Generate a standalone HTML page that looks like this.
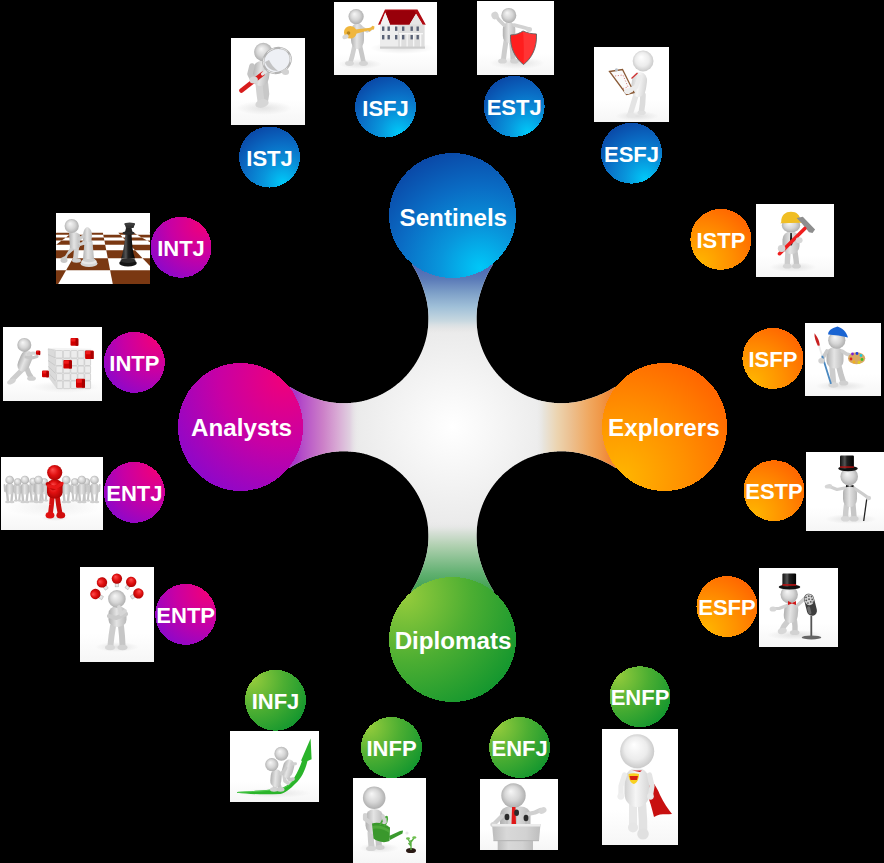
<!DOCTYPE html>
<html><head><meta charset="utf-8"><style>
html,body{margin:0;padding:0;background:#000;width:884px;height:863px;overflow:hidden}
svg{display:block}
.bl{font-family:"Liberation Sans",sans-serif;font-weight:bold;font-size:24.2px;fill:#fff;text-anchor:middle}
.sl{font-family:"Liberation Sans",sans-serif;font-weight:bold;font-size:22px;fill:#fff;text-anchor:middle}
</style></head><body>
<svg width="884" height="863" viewBox="0 0 884 863">
<defs><radialGradient id="gb" cx="0.72" cy="0.92" r="1.05" fx="0.72" fy="0.92"><stop offset="0" stop-color="#00c8f8"/><stop offset="0.3" stop-color="#0896dc"/><stop offset="0.62" stop-color="#0a6cc4"/><stop offset="1" stop-color="#0a40a0"/></radialGradient>
<radialGradient id="gm" cx="0.85" cy="0.12" r="1.05" fx="0.85" fy="0.12"><stop offset="0" stop-color="#f0007a"/><stop offset="0.5" stop-color="#c800a4"/><stop offset="1" stop-color="#8a08cc"/></radialGradient>
<radialGradient id="go" cx="0.15" cy="0.90" r="1.05" fx="0.15" fy="0.90"><stop offset="0" stop-color="#ffb600"/><stop offset="0.5" stop-color="#ff9000"/><stop offset="1" stop-color="#ff6400"/></radialGradient>
<radialGradient id="gg" cx="0.12" cy="0.15" r="1.05" fx="0.12" fy="0.15"><stop offset="0" stop-color="#96cc3c"/><stop offset="0.5" stop-color="#4cae32"/><stop offset="1" stop-color="#10952e"/></radialGradient>
<radialGradient id="cw" gradientUnits="userSpaceOnUse" cx="452.5" cy="427" r="150"><stop offset="0" stop-color="#ffffff"/><stop offset="0.7" stop-color="#e9e9e9"/><stop offset="1" stop-color="#e6e6e6"/></radialGradient>
<linearGradient id="at" gradientUnits="userSpaceOnUse" x1="0" y1="262" x2="0" y2="334"><stop offset="0.000" stop-color="#4862b4" stop-opacity="1"/><stop offset="0.236" stop-color="#5a7ab8" stop-opacity="1"/><stop offset="0.430" stop-color="#7ea0c8" stop-opacity="1"/><stop offset="0.625" stop-color="#a0c0d8" stop-opacity="1"/><stop offset="0.820" stop-color="#c8d8e0" stop-opacity="1"/><stop offset="0.944" stop-color="#e4e4e4" stop-opacity="0.5"/><stop offset="1.000" stop-color="#e8e8e8" stop-opacity="0"/></linearGradient>
<linearGradient id="ab" gradientUnits="userSpaceOnUse" x1="0" y1="590" x2="0" y2="522"><stop offset="0.000" stop-color="#40a050" stop-opacity="1"/><stop offset="0.240" stop-color="#60b070" stop-opacity="1"/><stop offset="0.446" stop-color="#88c090" stop-opacity="1"/><stop offset="0.650" stop-color="#b0d0b0" stop-opacity="1"/><stop offset="0.855" stop-color="#d8e0d8" stop-opacity="1"/><stop offset="0.940" stop-color="#e4e6e4" stop-opacity="0.5"/><stop offset="1.000" stop-color="#e8e8e8" stop-opacity="0"/></linearGradient>
<linearGradient id="al" gradientUnits="userSpaceOnUse" x1="296" y1="0" x2="359" y2="0"><stop offset="0.000" stop-color="#a838c8" stop-opacity="1"/><stop offset="0.095" stop-color="#b44cc8" stop-opacity="1"/><stop offset="0.430" stop-color="#cc80c8" stop-opacity="1"/><stop offset="0.650" stop-color="#d8a8d4" stop-opacity="1"/><stop offset="0.857" stop-color="#e0d0e0" stop-opacity="1"/><stop offset="0.937" stop-color="#e6e0e6" stop-opacity="0.5"/><stop offset="1.000" stop-color="#e8e8e8" stop-opacity="0"/></linearGradient>
<linearGradient id="ar" gradientUnits="userSpaceOnUse" x1="609" y1="0" x2="537" y2="0"><stop offset="0.000" stop-color="#f08838" stop-opacity="1"/><stop offset="0.117" stop-color="#f09848" stop-opacity="1"/><stop offset="0.280" stop-color="#f0a860" stop-opacity="1"/><stop offset="0.530" stop-color="#ecc090" stop-opacity="1"/><stop offset="0.720" stop-color="#ecd4b0" stop-opacity="1"/><stop offset="0.908" stop-color="#e8e4dc" stop-opacity="1"/><stop offset="1.000" stop-color="#e8e8e8" stop-opacity="0"/></linearGradient>
<clipPath id="cc"><path d="M452.5,215.5 L492.88,264.64 L492.48,265.29 L492.08,265.94 L491.68,266.59 L491.30,267.24 L490.91,267.90 L490.54,268.56 L490.16,269.22 L489.80,269.89 L489.44,270.55 L489.08,271.22 L488.73,271.89 L488.38,272.56 L488.04,273.23 L487.71,273.91 L487.38,274.59 L487.05,275.27 L486.73,275.95 L486.42,276.63 L486.11,277.31 L485.80,278.00 L485.50,278.69 L485.20,279.38 L484.91,280.07 L484.63,280.76 L484.35,281.45 L484.07,282.15 L483.80,282.84 L483.54,283.54 L483.27,284.24 L483.02,284.94 L482.77,285.64 L482.52,286.34 L482.27,287.04 L482.03,287.75 L481.80,288.45 L481.56,289.16 L481.34,289.86 L481.11,290.57 L480.88,291.28 L480.66,291.98 L480.43,292.69 L480.21,293.40 L480.00,294.11 L479.79,294.82 L479.59,295.53 L479.40,296.25 L479.21,296.97 L479.02,297.69 L478.85,298.41 L478.68,299.13 L478.51,299.85 L478.36,300.58 L478.21,301.30 L478.06,302.03 L477.92,302.76 L477.79,303.49 L477.67,304.22 L477.55,304.95 L477.43,305.69 L477.33,306.42 L477.23,307.16 L477.13,307.89 L477.05,308.63 L476.97,309.37 L476.89,310.10 L476.82,310.84 L476.76,311.58 L476.71,312.32 L476.66,313.06 L476.62,313.80 L476.58,314.54 L476.55,315.28 L476.53,316.02 L476.51,316.77 L476.50,317.51 L476.50,318.25 L476.50,318.99 L476.51,319.73 L476.53,320.48 L476.55,321.22 L476.58,321.96 L476.62,322.70 L476.66,323.44 L476.71,324.18 L476.76,324.92 L476.82,325.66 L476.89,326.40 L476.97,327.13 L477.05,327.87 L477.13,328.61 L477.23,329.34 L477.33,330.08 L477.43,330.81 L477.55,331.55 L477.67,332.28 L477.79,333.01 L477.92,333.74 L478.06,334.47 L478.21,335.20 L478.36,335.92 L478.51,336.65 L478.68,337.37 L478.85,338.09 L479.02,338.81 L479.21,339.53 L479.40,340.25 L479.59,340.97 L479.79,341.68 L480.00,342.39 L480.21,343.10 L480.43,343.81 L480.66,344.52 L480.89,345.22 L481.13,345.92 L481.38,346.62 L481.63,347.32 L481.88,348.02 L482.15,348.71 L482.41,349.40 L482.69,350.09 L482.97,350.78 L483.26,351.46 L483.55,352.14 L483.85,352.82 L484.15,353.50 L484.46,354.17 L484.78,354.84 L485.10,355.51 L485.43,356.18 L485.76,356.84 L486.10,357.50 L486.45,358.16 L486.80,358.81 L487.16,359.46 L487.52,360.11 L487.89,360.75 L488.26,361.39 L488.64,362.03 L489.03,362.66 L489.42,363.29 L489.81,363.92 L490.21,364.54 L490.62,365.16 L491.03,365.78 L491.45,366.39 L491.87,367.00 L492.30,367.61 L492.73,368.21 L493.17,368.81 L493.62,369.40 L494.06,369.99 L494.52,370.58 L494.98,371.16 L495.44,371.74 L495.91,372.32 L496.39,372.89 L496.87,373.45 L497.35,374.02 L497.84,374.57 L498.33,375.13 L498.83,375.68 L499.33,376.22 L499.84,376.76 L500.36,377.30 L500.87,377.83 L501.40,378.35 L501.92,378.88 L502.45,379.39 L502.99,379.91 L503.53,380.42 L504.07,380.92 L504.62,381.42 L505.18,381.91 L505.73,382.40 L506.30,382.88 L506.86,383.36 L507.43,383.84 L508.01,384.31 L508.59,384.77 L509.17,385.23 L509.76,385.69 L510.35,386.13 L510.94,386.58 L511.54,387.02 L512.14,387.45 L512.75,387.88 L513.36,388.30 L513.97,388.72 L514.59,389.13 L515.21,389.54 L515.83,389.94 L516.46,390.33 L517.09,390.72 L517.72,391.11 L518.36,391.49 L519.00,391.86 L519.64,392.23 L520.29,392.59 L520.94,392.95 L521.59,393.30 L522.25,393.65 L522.91,393.99 L523.57,394.32 L524.24,394.65 L524.91,394.97 L525.58,395.29 L526.25,395.60 L526.93,395.90 L527.61,396.20 L528.29,396.49 L528.97,396.78 L529.66,397.06 L530.35,397.34 L531.04,397.60 L531.73,397.87 L532.43,398.12 L533.13,398.37 L533.83,398.62 L534.53,398.86 L535.23,399.09 L535.94,399.32 L536.65,399.54 L537.36,399.75 L538.07,399.96 L538.78,400.16 L539.50,400.35 L540.22,400.54 L540.94,400.73 L541.66,400.90 L542.38,401.07 L543.10,401.24 L543.83,401.39 L544.55,401.54 L545.28,401.69 L546.01,401.83 L546.74,401.96 L547.47,402.08 L548.20,402.20 L548.94,402.32 L549.67,402.42 L550.41,402.52 L551.14,402.62 L551.88,402.70 L552.62,402.78 L553.35,402.86 L554.09,402.93 L554.83,402.99 L555.57,403.04 L556.31,403.09 L557.05,403.13 L557.79,403.17 L558.53,403.20 L559.27,403.22 L560.02,403.24 L560.76,403.25 L561.50,403.25 L562.24,403.25 L562.98,403.24 L563.73,403.22 L564.47,403.20 L565.21,403.17 L565.95,403.13 L566.69,403.09 L567.43,403.04 L568.17,402.99 L568.91,402.93 L569.65,402.86 L570.38,402.78 L571.12,402.70 L571.86,402.62 L572.59,402.52 L573.33,402.42 L574.06,402.32 L574.80,402.20 L575.53,402.08 L576.26,401.96 L576.99,401.83 L577.72,401.69 L578.45,401.54 L579.17,401.39 L579.90,401.24 L580.62,401.07 L581.34,400.90 L582.06,400.73 L582.78,400.54 L583.50,400.35 L584.22,400.16 L584.93,399.96 L585.64,399.75 L586.35,399.54 L587.06,399.32 L587.77,399.09 L588.47,398.87 L589.18,398.64 L589.89,398.41 L590.59,398.19 L591.30,397.95 L592.00,397.72 L592.71,397.48 L593.41,397.23 L594.11,396.98 L594.81,396.73 L595.51,396.48 L596.21,396.21 L596.91,395.95 L597.60,395.68 L598.30,395.40 L598.99,395.12 L599.68,394.84 L600.37,394.55 L601.06,394.25 L601.75,393.95 L602.44,393.64 L603.12,393.33 L603.80,393.02 L604.48,392.70 L605.16,392.37 L605.84,392.04 L606.52,391.71 L607.19,391.37 L607.86,391.02 L608.53,390.67 L609.20,390.31 L609.86,389.95 L610.53,389.59 L611.19,389.21 L611.85,388.84 L612.51,388.45 L613.16,388.07 L613.81,387.67 L614.46,387.27 L615.11,386.87 L664.5,427.0 L664.5,427.0 L615.76,468.04 L615.11,467.63 L614.46,467.23 L613.81,466.83 L613.16,466.43 L612.51,466.05 L611.85,465.66 L611.19,465.29 L610.53,464.91 L609.86,464.55 L609.20,464.19 L608.53,463.83 L607.86,463.48 L607.19,463.13 L606.52,462.79 L605.84,462.46 L605.16,462.13 L604.48,461.80 L603.80,461.48 L603.12,461.17 L602.44,460.86 L601.75,460.55 L601.06,460.25 L600.37,459.95 L599.68,459.66 L598.99,459.38 L598.30,459.10 L597.60,458.82 L596.91,458.55 L596.21,458.29 L595.51,458.02 L594.81,457.77 L594.11,457.52 L593.41,457.27 L592.71,457.02 L592.00,456.78 L591.30,456.55 L590.59,456.31 L589.89,456.09 L589.18,455.86 L588.47,455.63 L587.77,455.41 L587.06,455.18 L586.35,454.96 L585.64,454.75 L584.93,454.54 L584.22,454.34 L583.50,454.15 L582.78,453.96 L582.06,453.77 L581.34,453.60 L580.62,453.43 L579.90,453.26 L579.17,453.11 L578.45,452.96 L577.72,452.81 L576.99,452.67 L576.26,452.54 L575.53,452.42 L574.80,452.30 L574.06,452.18 L573.33,452.08 L572.59,451.98 L571.86,451.88 L571.12,451.80 L570.38,451.72 L569.65,451.64 L568.91,451.57 L568.17,451.51 L567.43,451.46 L566.69,451.41 L565.95,451.37 L565.21,451.33 L564.47,451.30 L563.73,451.28 L562.98,451.26 L562.24,451.25 L561.50,451.25 L560.76,451.25 L560.02,451.26 L559.27,451.28 L558.53,451.30 L557.79,451.33 L557.05,451.37 L556.31,451.41 L555.57,451.46 L554.83,451.51 L554.09,451.57 L553.35,451.64 L552.62,451.72 L551.88,451.80 L551.14,451.88 L550.41,451.98 L549.67,452.08 L548.94,452.18 L548.20,452.30 L547.47,452.42 L546.74,452.54 L546.01,452.67 L545.28,452.81 L544.55,452.96 L543.83,453.11 L543.10,453.26 L542.38,453.43 L541.66,453.60 L540.94,453.77 L540.22,453.96 L539.50,454.15 L538.78,454.34 L538.07,454.54 L537.36,454.75 L536.65,454.96 L535.94,455.18 L535.23,455.41 L534.53,455.64 L533.83,455.88 L533.13,456.13 L532.43,456.38 L531.73,456.63 L531.04,456.90 L530.35,457.16 L529.66,457.44 L528.97,457.72 L528.29,458.01 L527.61,458.30 L526.93,458.60 L526.25,458.90 L525.58,459.21 L524.91,459.53 L524.24,459.85 L523.57,460.18 L522.91,460.51 L522.25,460.85 L521.59,461.20 L520.94,461.55 L520.29,461.91 L519.64,462.27 L519.00,462.64 L518.36,463.01 L517.72,463.39 L517.09,463.78 L516.46,464.17 L515.83,464.56 L515.21,464.96 L514.59,465.37 L513.97,465.78 L513.36,466.20 L512.75,466.62 L512.14,467.05 L511.54,467.48 L510.94,467.92 L510.35,468.37 L509.76,468.81 L509.17,469.27 L508.59,469.73 L508.01,470.19 L507.43,470.66 L506.86,471.14 L506.30,471.62 L505.73,472.10 L505.18,472.59 L504.62,473.08 L504.07,473.58 L503.53,474.08 L502.99,474.59 L502.45,475.11 L501.92,475.62 L501.40,476.15 L500.87,476.67 L500.36,477.20 L499.84,477.74 L499.33,478.28 L498.83,478.82 L498.33,479.37 L497.84,479.93 L497.35,480.48 L496.87,481.05 L496.39,481.61 L495.91,482.18 L495.44,482.76 L494.98,483.34 L494.52,483.92 L494.06,484.51 L493.62,485.10 L493.17,485.69 L492.73,486.29 L492.30,486.89 L491.87,487.50 L491.45,488.11 L491.03,488.72 L490.62,489.34 L490.21,489.96 L489.81,490.58 L489.42,491.21 L489.03,491.84 L488.64,492.47 L488.26,493.11 L487.89,493.75 L487.52,494.39 L487.16,495.04 L486.80,495.69 L486.45,496.34 L486.10,497.00 L485.76,497.66 L485.43,498.32 L485.10,498.99 L484.78,499.66 L484.46,500.33 L484.15,501.00 L483.85,501.68 L483.55,502.36 L483.26,503.04 L482.97,503.72 L482.69,504.41 L482.41,505.10 L482.15,505.79 L481.88,506.48 L481.63,507.18 L481.38,507.88 L481.13,508.58 L480.89,509.28 L480.66,509.98 L480.43,510.69 L480.21,511.40 L480.00,512.11 L479.79,512.82 L479.59,513.53 L479.40,514.25 L479.21,514.97 L479.02,515.69 L478.85,516.41 L478.68,517.13 L478.51,517.85 L478.36,518.58 L478.21,519.30 L478.06,520.03 L477.92,520.76 L477.79,521.49 L477.67,522.22 L477.55,522.95 L477.43,523.69 L477.33,524.42 L477.23,525.16 L477.13,525.89 L477.05,526.63 L476.97,527.37 L476.89,528.10 L476.82,528.84 L476.76,529.58 L476.71,530.32 L476.66,531.06 L476.62,531.80 L476.58,532.54 L476.55,533.28 L476.53,534.02 L476.51,534.77 L476.50,535.51 L476.50,536.25 L476.50,536.99 L476.51,537.73 L476.53,538.48 L476.55,539.22 L476.58,539.96 L476.62,540.70 L476.66,541.44 L476.71,542.18 L476.76,542.92 L476.82,543.66 L476.89,544.40 L476.97,545.13 L477.05,545.87 L477.13,546.61 L477.23,547.34 L477.33,548.08 L477.43,548.81 L477.55,549.55 L477.67,550.28 L477.79,551.01 L477.92,551.74 L478.06,552.47 L478.21,553.20 L478.36,553.92 L478.51,554.65 L478.68,555.37 L478.85,556.09 L479.02,556.81 L479.21,557.53 L479.40,558.25 L479.59,558.97 L479.79,559.68 L480.00,560.39 L480.21,561.10 L480.43,561.81 L480.66,562.52 L480.88,563.22 L481.11,563.93 L481.34,564.64 L481.56,565.34 L481.80,566.05 L482.03,566.75 L482.27,567.46 L482.52,568.16 L482.77,568.86 L483.02,569.56 L483.27,570.26 L483.54,570.96 L483.80,571.66 L484.07,572.35 L484.35,573.05 L484.63,573.74 L484.91,574.43 L485.20,575.12 L485.50,575.81 L485.80,576.50 L486.11,577.19 L486.42,577.87 L486.73,578.55 L487.05,579.23 L487.38,579.91 L487.71,580.59 L488.04,581.27 L488.38,581.94 L488.73,582.61 L489.08,583.28 L489.44,583.95 L489.80,584.61 L490.16,585.28 L490.54,585.94 L490.91,586.60 L491.30,587.26 L491.68,587.91 L492.08,588.56 L492.48,589.21 L492.88,589.86 L493.29,590.51 L493.70,591.15 L452.5,639.5 L452.5,639.5 L411.30,591.15 L411.71,590.51 L412.12,589.86 L412.52,589.21 L412.92,588.56 L413.32,587.91 L413.70,587.26 L414.09,586.60 L414.46,585.94 L414.84,585.28 L415.20,584.61 L415.56,583.95 L415.92,583.28 L416.27,582.61 L416.62,581.94 L416.96,581.27 L417.29,580.59 L417.62,579.91 L417.95,579.23 L418.27,578.55 L418.58,577.87 L418.89,577.19 L419.20,576.50 L419.50,575.81 L419.80,575.12 L420.09,574.43 L420.37,573.74 L420.65,573.05 L420.93,572.35 L421.20,571.66 L421.46,570.96 L421.73,570.26 L421.98,569.56 L422.23,568.86 L422.48,568.16 L422.73,567.46 L422.97,566.75 L423.20,566.05 L423.44,565.34 L423.66,564.64 L423.89,563.93 L424.12,563.22 L424.34,562.52 L424.57,561.81 L424.79,561.10 L425.00,560.39 L425.21,559.68 L425.41,558.97 L425.60,558.25 L425.79,557.53 L425.98,556.81 L426.15,556.09 L426.32,555.37 L426.49,554.65 L426.64,553.92 L426.79,553.20 L426.94,552.47 L427.08,551.74 L427.21,551.01 L427.33,550.28 L427.45,549.55 L427.57,548.81 L427.67,548.08 L427.77,547.34 L427.87,546.61 L427.95,545.87 L428.03,545.13 L428.11,544.40 L428.18,543.66 L428.24,542.92 L428.29,542.18 L428.34,541.44 L428.38,540.70 L428.42,539.96 L428.45,539.22 L428.47,538.48 L428.49,537.73 L428.50,536.99 L428.50,536.25 L428.50,535.51 L428.49,534.77 L428.47,534.02 L428.45,533.28 L428.42,532.54 L428.38,531.80 L428.34,531.06 L428.29,530.32 L428.24,529.58 L428.18,528.84 L428.11,528.10 L428.03,527.37 L427.95,526.63 L427.87,525.89 L427.77,525.16 L427.67,524.42 L427.57,523.69 L427.45,522.95 L427.33,522.22 L427.21,521.49 L427.08,520.76 L426.94,520.03 L426.79,519.30 L426.64,518.58 L426.49,517.85 L426.32,517.13 L426.15,516.41 L425.98,515.69 L425.79,514.97 L425.60,514.25 L425.41,513.53 L425.21,512.82 L425.00,512.11 L424.79,511.40 L424.57,510.69 L424.34,509.98 L424.11,509.28 L423.87,508.58 L423.62,507.88 L423.37,507.18 L423.12,506.48 L422.85,505.79 L422.59,505.10 L422.31,504.41 L422.03,503.72 L421.74,503.04 L421.45,502.36 L421.15,501.68 L420.85,501.00 L420.54,500.33 L420.22,499.66 L419.90,498.99 L419.57,498.32 L419.24,497.66 L418.90,497.00 L418.55,496.34 L418.20,495.69 L417.84,495.04 L417.48,494.39 L417.11,493.75 L416.74,493.11 L416.36,492.47 L415.97,491.84 L415.58,491.21 L415.19,490.58 L414.79,489.96 L414.38,489.34 L413.97,488.72 L413.55,488.11 L413.13,487.50 L412.70,486.89 L412.27,486.29 L411.83,485.69 L411.38,485.10 L410.94,484.51 L410.48,483.92 L410.02,483.34 L409.56,482.76 L409.09,482.18 L408.61,481.61 L408.13,481.05 L407.65,480.48 L407.16,479.93 L406.67,479.37 L406.17,478.82 L405.67,478.28 L405.16,477.74 L404.64,477.20 L404.13,476.67 L403.60,476.15 L403.08,475.62 L402.55,475.11 L402.01,474.59 L401.47,474.08 L400.93,473.58 L400.38,473.08 L399.82,472.59 L399.27,472.10 L398.70,471.62 L398.14,471.14 L397.57,470.66 L396.99,470.19 L396.41,469.73 L395.83,469.27 L395.24,468.81 L394.65,468.37 L394.06,467.92 L393.46,467.48 L392.86,467.05 L392.25,466.62 L391.64,466.20 L391.03,465.78 L390.41,465.37 L389.79,464.96 L389.17,464.56 L388.54,464.17 L387.91,463.78 L387.28,463.39 L386.64,463.01 L386.00,462.64 L385.36,462.27 L384.71,461.91 L384.06,461.55 L383.41,461.20 L382.75,460.85 L382.09,460.51 L381.43,460.18 L380.76,459.85 L380.09,459.53 L379.42,459.21 L378.75,458.90 L378.07,458.60 L377.39,458.30 L376.71,458.01 L376.03,457.72 L375.34,457.44 L374.65,457.16 L373.96,456.90 L373.27,456.63 L372.57,456.38 L371.87,456.13 L371.17,455.88 L370.47,455.64 L369.77,455.41 L369.06,455.18 L368.35,454.96 L367.64,454.75 L366.93,454.54 L366.22,454.34 L365.50,454.15 L364.78,453.96 L364.06,453.77 L363.34,453.60 L362.62,453.43 L361.90,453.26 L361.17,453.11 L360.45,452.96 L359.72,452.81 L358.99,452.67 L358.26,452.54 L357.53,452.42 L356.80,452.30 L356.06,452.18 L355.33,452.08 L354.59,451.98 L353.86,451.88 L353.12,451.80 L352.38,451.72 L351.65,451.64 L350.91,451.57 L350.17,451.51 L349.43,451.46 L348.69,451.41 L347.95,451.37 L347.21,451.33 L346.47,451.30 L345.73,451.28 L344.98,451.26 L344.24,451.25 L343.50,451.25 L342.76,451.25 L342.02,451.26 L341.27,451.28 L340.53,451.30 L339.79,451.33 L339.05,451.37 L338.31,451.41 L337.57,451.46 L336.83,451.51 L336.09,451.57 L335.35,451.64 L334.62,451.72 L333.88,451.80 L333.14,451.88 L332.41,451.98 L331.67,452.08 L330.94,452.18 L330.20,452.30 L329.47,452.42 L328.74,452.54 L328.01,452.67 L327.28,452.81 L326.55,452.96 L325.83,453.11 L325.10,453.26 L324.38,453.43 L323.66,453.60 L322.94,453.77 L322.22,453.96 L321.50,454.15 L320.78,454.34 L320.07,454.54 L319.36,454.75 L318.65,454.96 L317.94,455.18 L317.23,455.41 L316.53,455.63 L315.82,455.86 L315.11,456.09 L314.41,456.31 L313.70,456.55 L313.00,456.78 L312.29,457.02 L311.59,457.27 L310.89,457.52 L310.19,457.77 L309.49,458.02 L308.79,458.29 L308.09,458.55 L307.40,458.82 L306.70,459.10 L306.01,459.38 L305.32,459.66 L304.63,459.95 L303.94,460.25 L303.25,460.55 L302.56,460.86 L301.88,461.17 L301.20,461.48 L300.52,461.80 L299.84,462.13 L299.16,462.46 L298.48,462.79 L297.81,463.13 L297.14,463.48 L296.47,463.83 L295.80,464.19 L295.14,464.55 L294.47,464.91 L293.81,465.29 L293.15,465.66 L292.49,466.05 L291.84,466.43 L291.19,466.83 L290.54,467.23 L289.89,467.63 L289.24,468.04 L240.5,427.0 L240.5,427.0 L289.89,386.87 L290.54,387.27 L291.19,387.67 L291.84,388.07 L292.49,388.45 L293.15,388.84 L293.81,389.21 L294.47,389.59 L295.14,389.95 L295.80,390.31 L296.47,390.67 L297.14,391.02 L297.81,391.37 L298.48,391.71 L299.16,392.04 L299.84,392.37 L300.52,392.70 L301.20,393.02 L301.88,393.33 L302.56,393.64 L303.25,393.95 L303.94,394.25 L304.63,394.55 L305.32,394.84 L306.01,395.12 L306.70,395.40 L307.40,395.68 L308.09,395.95 L308.79,396.21 L309.49,396.48 L310.19,396.73 L310.89,396.98 L311.59,397.23 L312.29,397.48 L313.00,397.72 L313.70,397.95 L314.41,398.19 L315.11,398.41 L315.82,398.64 L316.53,398.87 L317.23,399.09 L317.94,399.32 L318.65,399.54 L319.36,399.75 L320.07,399.96 L320.78,400.16 L321.50,400.35 L322.22,400.54 L322.94,400.73 L323.66,400.90 L324.38,401.07 L325.10,401.24 L325.83,401.39 L326.55,401.54 L327.28,401.69 L328.01,401.83 L328.74,401.96 L329.47,402.08 L330.20,402.20 L330.94,402.32 L331.67,402.42 L332.41,402.52 L333.14,402.62 L333.88,402.70 L334.62,402.78 L335.35,402.86 L336.09,402.93 L336.83,402.99 L337.57,403.04 L338.31,403.09 L339.05,403.13 L339.79,403.17 L340.53,403.20 L341.27,403.22 L342.02,403.24 L342.76,403.25 L343.50,403.25 L344.24,403.25 L344.98,403.24 L345.73,403.22 L346.47,403.20 L347.21,403.17 L347.95,403.13 L348.69,403.09 L349.43,403.04 L350.17,402.99 L350.91,402.93 L351.65,402.86 L352.38,402.78 L353.12,402.70 L353.86,402.62 L354.59,402.52 L355.33,402.42 L356.06,402.32 L356.80,402.20 L357.53,402.08 L358.26,401.96 L358.99,401.83 L359.72,401.69 L360.45,401.54 L361.17,401.39 L361.90,401.24 L362.62,401.07 L363.34,400.90 L364.06,400.73 L364.78,400.54 L365.50,400.35 L366.22,400.16 L366.93,399.96 L367.64,399.75 L368.35,399.54 L369.06,399.32 L369.77,399.09 L370.47,398.86 L371.17,398.62 L371.87,398.37 L372.57,398.12 L373.27,397.87 L373.96,397.60 L374.65,397.34 L375.34,397.06 L376.03,396.78 L376.71,396.49 L377.39,396.20 L378.07,395.90 L378.75,395.60 L379.42,395.29 L380.09,394.97 L380.76,394.65 L381.43,394.32 L382.09,393.99 L382.75,393.65 L383.41,393.30 L384.06,392.95 L384.71,392.59 L385.36,392.23 L386.00,391.86 L386.64,391.49 L387.28,391.11 L387.91,390.72 L388.54,390.33 L389.17,389.94 L389.79,389.54 L390.41,389.13 L391.03,388.72 L391.64,388.30 L392.25,387.88 L392.86,387.45 L393.46,387.02 L394.06,386.58 L394.65,386.13 L395.24,385.69 L395.83,385.23 L396.41,384.77 L396.99,384.31 L397.57,383.84 L398.14,383.36 L398.70,382.88 L399.27,382.40 L399.82,381.91 L400.38,381.42 L400.93,380.92 L401.47,380.42 L402.01,379.91 L402.55,379.39 L403.08,378.88 L403.60,378.35 L404.13,377.83 L404.64,377.30 L405.16,376.76 L405.67,376.22 L406.17,375.68 L406.67,375.13 L407.16,374.57 L407.65,374.02 L408.13,373.45 L408.61,372.89 L409.09,372.32 L409.56,371.74 L410.02,371.16 L410.48,370.58 L410.94,369.99 L411.38,369.40 L411.83,368.81 L412.27,368.21 L412.70,367.61 L413.13,367.00 L413.55,366.39 L413.97,365.78 L414.38,365.16 L414.79,364.54 L415.19,363.92 L415.58,363.29 L415.97,362.66 L416.36,362.03 L416.74,361.39 L417.11,360.75 L417.48,360.11 L417.84,359.46 L418.20,358.81 L418.55,358.16 L418.90,357.50 L419.24,356.84 L419.57,356.18 L419.90,355.51 L420.22,354.84 L420.54,354.17 L420.85,353.50 L421.15,352.82 L421.45,352.14 L421.74,351.46 L422.03,350.78 L422.31,350.09 L422.59,349.40 L422.85,348.71 L423.12,348.02 L423.37,347.32 L423.62,346.62 L423.87,345.92 L424.11,345.22 L424.34,344.52 L424.57,343.81 L424.79,343.10 L425.00,342.39 L425.21,341.68 L425.41,340.97 L425.60,340.25 L425.79,339.53 L425.98,338.81 L426.15,338.09 L426.32,337.37 L426.49,336.65 L426.64,335.92 L426.79,335.20 L426.94,334.47 L427.08,333.74 L427.21,333.01 L427.33,332.28 L427.45,331.55 L427.57,330.81 L427.67,330.08 L427.77,329.34 L427.87,328.61 L427.95,327.87 L428.03,327.13 L428.11,326.40 L428.18,325.66 L428.24,324.92 L428.29,324.18 L428.34,323.44 L428.38,322.70 L428.42,321.96 L428.45,321.22 L428.47,320.48 L428.49,319.73 L428.50,318.99 L428.50,318.25 L428.50,317.51 L428.49,316.77 L428.47,316.02 L428.45,315.28 L428.42,314.54 L428.38,313.80 L428.34,313.06 L428.29,312.32 L428.24,311.58 L428.18,310.84 L428.11,310.10 L428.03,309.37 L427.95,308.63 L427.87,307.89 L427.77,307.16 L427.67,306.42 L427.57,305.69 L427.45,304.95 L427.33,304.22 L427.21,303.49 L427.08,302.76 L426.94,302.03 L426.79,301.30 L426.64,300.58 L426.49,299.85 L426.32,299.13 L426.15,298.41 L425.98,297.69 L425.79,296.97 L425.60,296.25 L425.41,295.53 L425.21,294.82 L425.00,294.11 L424.79,293.40 L424.57,292.69 L424.34,291.98 L424.12,291.28 L423.89,290.57 L423.66,289.86 L423.44,289.16 L423.20,288.45 L422.97,287.75 L422.73,287.04 L422.48,286.34 L422.23,285.64 L421.98,284.94 L421.73,284.24 L421.46,283.54 L421.20,282.84 L420.93,282.15 L420.65,281.45 L420.37,280.76 L420.09,280.07 L419.80,279.38 L419.50,278.69 L419.20,278.00 L418.89,277.31 L418.58,276.63 L418.27,275.95 L417.95,275.27 L417.62,274.59 L417.29,273.91 L416.96,273.23 L416.62,272.56 L416.27,271.89 L415.92,271.22 L415.56,270.55 L415.20,269.89 L414.84,269.22 L414.46,268.56 L414.09,267.90 L413.70,267.24 L413.32,266.59 L412.92,265.94 L412.52,265.29 L412.12,264.64 L452.5,215.5 Z" shape-rendering="crispEdges"/></clipPath>

<radialGradient id="hd" cx="0.5" cy="0.5" r="0.55" fx="0.38" fy="0.32"><stop offset="0" stop-color="#f7f7f7"/><stop offset="0.55" stop-color="#d6d6d6"/><stop offset="1" stop-color="#a8a8a8"/></radialGradient>
<radialGradient id="hdw" cx="0.5" cy="0.5" r="0.55" fx="0.4" fy="0.3"><stop offset="0" stop-color="#ffffff"/><stop offset="0.6" stop-color="#ececec"/><stop offset="1" stop-color="#c4c4c4"/></radialGradient>
<linearGradient id="bd" x1="0" y1="0" x2="1" y2="0"><stop offset="0" stop-color="#b0b0b0"/><stop offset="0.45" stop-color="#e4e4e4"/><stop offset="1" stop-color="#bababa"/></linearGradient>
<linearGradient id="bdw" x1="0" y1="0" x2="1" y2="0"><stop offset="0" stop-color="#d0d0d0"/><stop offset="0.45" stop-color="#f6f6f6"/><stop offset="1" stop-color="#d6d6d6"/></linearGradient>
<radialGradient id="sh"><stop offset="0" stop-color="#000" stop-opacity="0.10"/><stop offset="1" stop-color="#000" stop-opacity="0"/></radialGradient>
<linearGradient id="bg" x1="0" y1="0" x2="0" y2="1"><stop offset="0" stop-color="#ffffff"/><stop offset="0.7" stop-color="#ffffff"/><stop offset="1" stop-color="#f6f6f6"/></linearGradient>
<radialGradient id="red" cx="0.5" cy="0.5" r="0.6" fx="0.35" fy="0.3"><stop offset="0" stop-color="#ff5050"/><stop offset="0.5" stop-color="#e01010"/><stop offset="1" stop-color="#a00000"/></radialGradient>
<linearGradient id="blk" x1="0" y1="0" x2="1" y2="0"><stop offset="0" stop-color="#111"/><stop offset="0.35" stop-color="#555"/><stop offset="0.5" stop-color="#222"/><stop offset="1" stop-color="#000"/></linearGradient>
<linearGradient id="pod" x1="0" y1="0" x2="1" y2="0"><stop offset="0" stop-color="#bcbcbc"/><stop offset="0.3" stop-color="#d8d8d8"/><stop offset="0.7" stop-color="#d2d2d2"/><stop offset="1" stop-color="#bdbdbd"/></linearGradient>

<clipPath id="cbclip"><rect x="0" y="0" width="94" height="71"/></clipPath></defs>
<rect width="884" height="863" fill="#000"/>
<g clip-path="url(#cc)"><rect x="0" y="0" width="884" height="863" fill="url(#cw)"/><rect x="370" y="230" width="170" height="104" fill="url(#at)"/><rect x="260" y="350" width="99" height="155" fill="url(#al)"/><rect x="537" y="350" width="110" height="155" fill="url(#ar)"/><rect x="370" y="522" width="170" height="104" fill="url(#ab)"/></g>
<ellipse cx="452.5" cy="215.5" rx="63.5" ry="62.5" fill="url(#gb)" shape-rendering="crispEdges"/>
<text x="453.3" y="225.5" class="bl">Sentinels</text>
<ellipse cx="240.5" cy="427.0" rx="62.5" ry="64.0" fill="url(#gm)" shape-rendering="crispEdges"/>
<text x="241.5" y="435.5" class="bl">Analysts</text>
<ellipse cx="664.5" cy="427.0" rx="62.5" ry="64.0" fill="url(#go)" shape-rendering="crispEdges"/>
<text x="663.9" y="436.0" class="bl">Explorers</text>
<ellipse cx="452.5" cy="639.5" rx="63.5" ry="62.5" fill="url(#gg)" shape-rendering="crispEdges"/>
<text x="453.1" y="648.8" class="bl">Diplomats</text>
<circle cx="269.50" cy="157.00" r="30.5" fill="url(#gb)" shape-rendering="crispEdges"/>
<text x="269.5" y="165.5" class="sl">ISTJ</text>
<circle cx="385.50" cy="107.00" r="30.5" fill="url(#gb)" shape-rendering="crispEdges"/>
<text x="385.5" y="115.5" class="sl">ISFJ</text>
<circle cx="514.20" cy="106.40" r="30.5" fill="url(#gb)" shape-rendering="crispEdges"/>
<text x="514.2" y="114.9" class="sl">ESTJ</text>
<circle cx="631.50" cy="153.20" r="30.5" fill="url(#gb)" shape-rendering="crispEdges"/>
<text x="631.5" y="161.7" class="sl">ESFJ</text>
<circle cx="720.90" cy="239.35" r="30.5" fill="url(#go)" shape-rendering="crispEdges"/>
<text x="720.9" y="247.8" class="sl">ISTP</text>
<circle cx="772.90" cy="358.45" r="30.5" fill="url(#go)" shape-rendering="crispEdges"/>
<text x="772.9" y="366.9" class="sl">ISFP</text>
<circle cx="774.00" cy="490.70" r="30.5" fill="url(#go)" shape-rendering="crispEdges"/>
<text x="774.0" y="499.2" class="sl">ESTP</text>
<circle cx="727.00" cy="606.50" r="30.5" fill="url(#go)" shape-rendering="crispEdges"/>
<text x="727.0" y="615.0" class="sl">ESFP</text>
<circle cx="640.00" cy="696.70" r="30.5" fill="url(#gg)" shape-rendering="crispEdges"/>
<text x="640.0" y="705.2" class="sl">ENFP</text>
<circle cx="519.60" cy="747.50" r="30.5" fill="url(#gg)" shape-rendering="crispEdges"/>
<text x="519.6" y="756.0" class="sl">ENFJ</text>
<circle cx="391.50" cy="747.50" r="30.5" fill="url(#gg)" shape-rendering="crispEdges"/>
<text x="391.5" y="756.0" class="sl">INFP</text>
<circle cx="275.50" cy="700.30" r="30.5" fill="url(#gg)" shape-rendering="crispEdges"/>
<text x="275.5" y="708.8" class="sl">INFJ</text>
<circle cx="185.70" cy="614.40" r="30.5" fill="url(#gm)" shape-rendering="crispEdges"/>
<text x="185.7" y="622.9" class="sl">ENTP</text>
<circle cx="134.40" cy="492.40" r="30.5" fill="url(#gm)" shape-rendering="crispEdges"/>
<text x="134.4" y="500.9" class="sl">ENTJ</text>
<circle cx="134.40" cy="362.40" r="30.5" fill="url(#gm)" shape-rendering="crispEdges"/>
<text x="134.4" y="370.9" class="sl">INTP</text>
<circle cx="181.00" cy="247.30" r="30.5" fill="url(#gm)" shape-rendering="crispEdges"/>
<text x="181.0" y="255.8" class="sl">INTJ</text>
<g transform="translate(231,38)"><rect width="74" height="87" fill="url(#bg)"/><ellipse cx="33.0" cy="70.0" rx="28.0" ry="7.0" fill="url(#sh)" opacity="1.00"/><path d="M34.0,46.0 L35.0,56.0 L34.0,62.0" stroke="#c8c8c8" stroke-width="6.5" stroke-linecap="round" stroke-linejoin="round" fill="none"/><path d="M28.0,46.0 L29.0,56.0 L30.0,63.0" stroke="#d2d2d2" stroke-width="7.0" stroke-linecap="round" stroke-linejoin="round" fill="none"/><ellipse cx="31.0" cy="65.5" rx="6.8" ry="4.2" transform="rotate(-15 31.0 65.5)" fill="#d6d6d6"/><rect x="21.5" y="23.0" width="17.0" height="25.0" rx="8.2" ry="8.8" transform="rotate(8 30.0 35.5)" fill="url(#bd)"/><circle cx="32.3" cy="14.0" r="9.2" fill="url(#hd)"/><path d="M21.0,28.0 L19.0,36.0 L22.0,42.0" stroke="#c4c4c4" stroke-width="5.5" stroke-linecap="round" stroke-linejoin="round" fill="none"/><path d="M10.5,52.5 L31.5,36.0" stroke="#d81c1c" stroke-width="4.6" stroke-linecap="round" stroke-linejoin="round" fill="none"/><path d="M31.5,36.0 L36.0,32.5" stroke="#e4e4e4" stroke-width="3.2" stroke-linecap="round" stroke-linejoin="round" fill="none"/><ellipse cx="22.7" cy="42.0" rx="4.2" ry="3.6" transform="rotate(0 22.7 42.0)" fill="#d8d8d8"/><ellipse cx="46" cy="22.5" rx="14" ry="12.2" transform="rotate(-25 46 22.5)" fill="#eef0f5" stroke="#b4b4b4" stroke-width="2.2"/><ellipse cx="46" cy="22.5" rx="14" ry="12.2" transform="rotate(-25 46 22.5)" fill="none" stroke="#f4f4f4" stroke-width="0.7" stroke-dasharray="8 6"/><path d="M34,24 C36,30 41,33 47,33 C43,30 40,26 38,22 Z" fill="#b8b8b8" opacity="0.8"/><ellipse cx="54.5" cy="34.0" rx="3.6" ry="3.0" transform="rotate(0 54.5 34.0)" fill="#d2d2d2"/></g>
<g transform="translate(334,2)"><rect width="103" height="73" fill="url(#bg)"/><ellipse cx="26.0" cy="62.0" rx="22.0" ry="5.0" fill="url(#sh)" opacity="1.00"/><ellipse cx="68.0" cy="46.0" rx="32.0" ry="6.0" fill="url(#sh)" opacity="1.00"/><path d="M20.5,44.0 L18.5,53.0 L16.5,60.0" stroke="#cfcfcf" stroke-width="4.6" stroke-linecap="round" stroke-linejoin="round" fill="none"/><path d="M26.0,44.0 L28.0,53.0 L29.5,60.0" stroke="#c8c8c8" stroke-width="4.6" stroke-linecap="round" stroke-linejoin="round" fill="none"/><ellipse cx="15.5" cy="61.5" rx="4.4" ry="2.4" transform="rotate(0 15.5 61.5)" fill="#d8d8d8"/><ellipse cx="29.5" cy="61.5" rx="4.4" ry="2.4" transform="rotate(0 29.5 61.5)" fill="#d4d4d4"/><rect x="17.0" y="21.0" width="13.0" height="26.0" rx="6.2" ry="9.1" transform="rotate(0 23.5 34.0)" fill="url(#bd)"/><circle cx="22.1" cy="14.6" r="7.6" fill="url(#hd)"/><path d="M28.5,26.0 L33.0,29.0 L37.0,27.0" stroke="#d0d0d0" stroke-width="3.2" stroke-linecap="round" stroke-linejoin="round" fill="none"/><circle cx="16.3" cy="30.3" r="6.3" fill="#f0b63c"/><circle cx="14.5" cy="31" r="1.8" fill="#b8861e"/><path d="M21,27.6 L36.5,25.8 L38.5,23.8 L40.5,24.5 L40,27.6 L37.5,27.8 L35.8,29.8 L34,28.6 L22,31.8 Z" fill="#eeb640"/><ellipse cx="11.5" cy="34.8" rx="3.2" ry="2.2" transform="rotate(-20 11.5 34.8)" fill="#d8d8d8"/><path d="M46,22 L90.5,22 L90.5,45.5 L46,45.5 Z" fill="#ededed"/><path d="M64,22 L90.5,22 L90.5,45.5 L64,45.5 Z" fill="#dedede"/><path d="M44,22.8 L51,7.6 L83.5,7.6 L91.8,22.8 L88.5,22.6 L82,11.7 L75.5,22.5 L56,22.5 L51.3,10.5 L46.5,22.6 Z" fill="#b00a12"/><path d="M51.6,11 L56,22.5 L75.5,22.5 L82,11.5 L80,8.5 L54,8.5 Z" fill="#98000a"/><path d="M46.5,22.6 L51.3,10.5 L56,22.5 Z" fill="#f2f2f2"/><path d="M75.5,22.5 L82,11.7 L88.5,22.6 Z" fill="#e6e6e6"/><rect x="48.0" y="24.5" width="2.4" height="4.4" fill="#5a6276"/><rect x="48.0" y="33.0" width="2.4" height="4.4" fill="#5a6276"/><rect x="53.5" y="24.5" width="2.4" height="4.4" fill="#5a6276"/><rect x="53.5" y="33.0" width="2.4" height="4.4" fill="#5a6276"/><rect x="61.0" y="24.5" width="2.4" height="4.4" fill="#5a6276"/><rect x="61.0" y="33.0" width="2.4" height="4.4" fill="#5a6276"/><rect x="68.0" y="24.5" width="2.4" height="4.4" fill="#5a6276"/><rect x="68.0" y="33.0" width="2.4" height="4.4" fill="#5a6276"/><rect x="76.5" y="24.5" width="2.4" height="4.4" fill="#5a6276"/><rect x="76.5" y="33.0" width="2.4" height="4.4" fill="#5a6276"/><rect x="82.5" y="24.5" width="2.4" height="4.4" fill="#5a6276"/><rect x="82.5" y="33.0" width="2.4" height="4.4" fill="#5a6276"/><rect x="65" y="31" width="24" height="1.4" fill="#f8f8f8"/><rect x="66.0" y="32" width="1.3" height="13" fill="#f6f6f6"/><rect x="72.5" y="32" width="1.3" height="13" fill="#f6f6f6"/><rect x="79.0" y="32" width="1.3" height="13" fill="#f6f6f6"/><rect x="86.0" y="32" width="1.3" height="13" fill="#f6f6f6"/><rect x="46" y="44.5" width="45" height="2.2" fill="#cdcdcd"/></g>
<g transform="translate(477,1)"><rect width="77" height="74" fill="url(#bg)"/><ellipse cx="40.0" cy="62.0" rx="28.0" ry="6.0" fill="url(#sh)" opacity="1.00"/><path d="M29.0,40.0 L27.5,50.0 L26.5,58.0" stroke="#cdcdcd" stroke-width="5.0" stroke-linecap="round" stroke-linejoin="round" fill="none"/><path d="M34.5,40.0 L35.5,50.0 L36.0,58.0" stroke="#c6c6c6" stroke-width="5.0" stroke-linecap="round" stroke-linejoin="round" fill="none"/><ellipse cx="25.5" cy="60.0" rx="4.4" ry="2.6" transform="rotate(0 25.5 60.0)" fill="#d6d6d6"/><ellipse cx="37.5" cy="60.0" rx="4.4" ry="2.6" transform="rotate(0 37.5 60.0)" fill="#d2d2d2"/><rect x="25.8" y="21.0" width="12.5" height="21.0" rx="6.0" ry="7.3" transform="rotate(0 32.0 31.5)" fill="url(#bd)"/><path d="M27.0,24.0 L22.0,19.0 L19.0,15.0" stroke="#cfcfcf" stroke-width="3.6" stroke-linecap="round" stroke-linejoin="round" fill="none"/><ellipse cx="18.0" cy="14.5" rx="3.6" ry="3.8" transform="rotate(-20 18.0 14.5)" fill="#d4d4d4"/><path d="M37.0,24.0 L45.0,26.0 L52.0,28.0" stroke="#d2d2d2" stroke-width="3.4" stroke-linecap="round" stroke-linejoin="round" fill="none"/><circle cx="31.8" cy="14.4" r="7.5" fill="url(#hd)"/><path d="M33.5,34 C39,34 43,32 46,30 C50,32 55,33 59.5,33 C60,47 55,57 46.5,63.5 C38,57 33,47 33.5,34 Z" fill="#ff1e1e" stroke="#6a6a6a" stroke-width="1"/><path d="M46,30.5 C47,42 47,55 46.5,63 C53,57 59,48 59,34 C55,33 50,32 46,30.5 Z" fill="#ff5050" opacity="0.45"/><ellipse cx="52.0" cy="28.5" rx="3.0" ry="2.4" transform="rotate(0 52.0 28.5)" fill="#d4d4d4"/></g>
<g transform="translate(594,47)"><rect width="75" height="75" fill="url(#bg)"/><ellipse cx="43.0" cy="69.0" rx="22.0" ry="5.0" fill="url(#sh)" opacity="1.00"/><path d="M42.0,48.0 L39.0,58.0 L36.5,66.0" stroke="#e4e4e4" stroke-width="5.6" stroke-linecap="round" stroke-linejoin="round" fill="none"/><path d="M49.0,48.0 L48.5,57.0 L47.5,64.0" stroke="#dcdcdc" stroke-width="5.6" stroke-linecap="round" stroke-linejoin="round" fill="none"/><ellipse cx="37.0" cy="68.3" rx="4.6" ry="2.5" transform="rotate(0 37.0 68.3)" fill="#e6e6e6"/><ellipse cx="47.6" cy="65.8" rx="4.2" ry="2.3" transform="rotate(0 47.6 65.8)" fill="#e0e0e0"/><rect x="37.5" y="25.0" width="15.0" height="25.0" rx="7.2" ry="8.8" transform="rotate(8 45.0 37.5)" fill="url(#bdw)"/><path d="M15.5,24.5 L28.5,22.5 L40,45.5 L32.5,47.5 Z" fill="#fafafa" stroke="#8a5a36" stroke-width="1.3"/><path d="M21,29 L29,28 L34,40 L29,41.5" fill="none" stroke="#c04040" stroke-width="0.6" stroke-dasharray="1.2 1.6"/><circle cx="22.5" cy="22.8" r="1.6" fill="#b8c0c8"/><line x1="37.5" y1="31.5" x2="43.5" y2="26" stroke="#d03030" stroke-width="1.3"/><path d="M46.0,30.0 L42.0,40.0 L34.0,44.0" stroke="#ececec" stroke-width="4.4" stroke-linecap="round" stroke-linejoin="round" fill="none"/><ellipse cx="33.5" cy="44.2" rx="3.4" ry="2.8" transform="rotate(0 33.5 44.2)" fill="#eeeeee"/><circle cx="49.1" cy="14.0" r="10.4" fill="url(#hdw)"/></g>
<g transform="translate(756,204)"><rect width="78" height="73" fill="url(#bg)"/><ellipse cx="37.0" cy="63.0" rx="24.0" ry="5.0" fill="url(#sh)" opacity="1.00"/><path d="M32.0,48.0 L31.5,55.0 L31.3,60.0" stroke="#cdcdcd" stroke-width="5.4" stroke-linecap="round" stroke-linejoin="round" fill="none"/><path d="M39.0,48.0 L40.0,55.0 L40.5,60.0" stroke="#c6c6c6" stroke-width="5.4" stroke-linecap="round" stroke-linejoin="round" fill="none"/><ellipse cx="31.3" cy="62.2" rx="4.4" ry="2.4" transform="rotate(0 31.3 62.2)" fill="#d6d6d6"/><ellipse cx="40.5" cy="62.2" rx="4.4" ry="2.4" transform="rotate(0 40.5 62.2)" fill="#d0d0d0"/><rect x="26.5" y="27.5" width="17.0" height="22.5" rx="8.2" ry="7.9" transform="rotate(0 35.0 38.8)" fill="url(#bd)"/><path d="M34.3,29 L35.8,29 L36.5,40 L35,42 L33.8,40 Z" fill="#1e1e1e"/><ellipse cx="35" cy="21.5" rx="9.2" ry="7" fill="url(#hd)"/><path d="M25.2,18.5 C25,11 29.5,7.8 35,7.8 C40.5,7.8 44.5,11 44.5,17.5 L46,18.8 L24,19.3 Z" fill="#f0be24"/><path d="M40.6,14.1 L46.8,12.8 L59.1,25.6 L56.5,29.1 L53,28.2 L45.9,19.4 Z" fill="#8e8e8e"/><path d="M23.5,49.7 L48.8,24.4" stroke="#f01e1e" stroke-width="3.6" stroke-linecap="round" stroke-linejoin="round" fill="none"/><ellipse cx="25.6" cy="44.5" rx="3.8" ry="3.4" transform="rotate(0 25.6 44.5)" fill="#d4d4d4"/><ellipse cx="43.2" cy="36.2" rx="3.4" ry="3.0" transform="rotate(0 43.2 36.2)" fill="#d8d8d8"/></g>
<g transform="translate(805,323)"><rect width="76" height="73" fill="url(#bg)"/><ellipse cx="36.0" cy="63.0" rx="26.0" ry="5.0" fill="url(#sh)" opacity="1.00"/><path d="M27.0,44.0 L27.8,52.0 L28.3,59.0" stroke="#cdcdcd" stroke-width="5.6" stroke-linecap="round" stroke-linejoin="round" fill="none"/><path d="M34.0,44.0 L36.0,52.0 L38.0,58.0" stroke="#c6c6c6" stroke-width="5.6" stroke-linecap="round" stroke-linejoin="round" fill="none"/><ellipse cx="28.4" cy="62.0" rx="5.0" ry="2.8" transform="rotate(0 28.4 62.0)" fill="#d6d6d6"/><ellipse cx="38.7" cy="60.0" rx="4.6" ry="2.6" transform="rotate(0 38.7 60.0)" fill="#d0d0d0"/><rect x="21.5" y="24.0" width="17.0" height="21.5" rx="8.2" ry="7.5" transform="rotate(0 30.0 34.8)" fill="url(#bd)"/><path d="M37.0,28.0 L41.5,31.0 L45.0,32.0" stroke="#cfcfcf" stroke-width="3.4" stroke-linecap="round" stroke-linejoin="round" fill="none"/><circle cx="31.8" cy="17.2" r="8.6" fill="url(#hd)"/><path d="M23.2,10 C24.5,6 29,4.5 32.5,3.4 C37,5 41.5,8 43,14.6 C37.5,13 29.5,11.8 23.2,11.5 Z" fill="#1a64d2"/><ellipse cx="51.6" cy="35.3" rx="8.6" ry="6" fill="#d8a862"/><circle cx="47.5" cy="31" r="1.4" fill="#8020d0"/><circle cx="52" cy="30.5" r="1.4" fill="#2040e0"/><circle cx="56" cy="32.5" r="1.4" fill="#20c8d8"/><circle cx="57" cy="36.5" r="1.4" fill="#40c020"/><circle cx="54" cy="39.5" r="1.4" fill="#e0d020"/><circle cx="49" cy="39" r="1.4" fill="#f0b020"/><circle cx="46" cy="36" r="1.4" fill="#e02020"/><path d="M22.0,28.0 L18.5,34.0 L16.5,37.5" stroke="#cacaca" stroke-width="3.6" stroke-linecap="round" stroke-linejoin="round" fill="none"/><line x1="17.2" y1="32.7" x2="25.8" y2="60.2" stroke="#4a88c0" stroke-width="1.8" stroke-linecap="round"/><line x1="13.8" y1="22.4" x2="17.2" y2="32.7" stroke="#ececec" stroke-width="1.8"/><path d="M9.5,10.3 C11.5,13 14.5,17 14.8,22.4 L12.8,22.8 C11,19 9,14 9.5,10.3 Z" fill="#c82020"/><ellipse cx="16.5" cy="37.8" rx="3.2" ry="2.8" transform="rotate(0 16.5 37.8)" fill="#d2d2d2"/></g>
<g transform="translate(806,452)"><rect width="78" height="79" fill="url(#bg)"/><ellipse cx="45.0" cy="67.0" rx="26.0" ry="5.0" fill="url(#sh)" opacity="1.00"/><path d="M40.5,53.0 L39.8,59.0 L39.5,65.0" stroke="#cdcdcd" stroke-width="5.4" stroke-linecap="round" stroke-linejoin="round" fill="none"/><path d="M47.0,53.0 L47.5,59.0 L48.0,65.0" stroke="#c6c6c6" stroke-width="5.4" stroke-linecap="round" stroke-linejoin="round" fill="none"/><ellipse cx="39.5" cy="66.8" rx="4.6" ry="2.8" transform="rotate(0 39.5 66.8)" fill="#d8d8d8"/><ellipse cx="48.0" cy="66.8" rx="4.6" ry="2.8" transform="rotate(0 48.0 66.8)" fill="#d2d2d2"/><rect x="37.0" y="32.5" width="14.0" height="22.5" rx="6.7" ry="7.9" transform="rotate(0 44.0 43.8)" fill="url(#bd)"/><path d="M38.5,36.0 L31.0,37.5 L23.5,34.5" stroke="#d0d0d0" stroke-width="3.2" stroke-linecap="round" stroke-linejoin="round" fill="none"/><ellipse cx="22.5" cy="34.3" rx="3.8" ry="2.2" transform="rotate(-10 22.5 34.3)" fill="#d6d6d6"/><path d="M49.5,37.0 L57.0,42.0 L62.5,46.0" stroke="#cdcdcd" stroke-width="3.2" stroke-linecap="round" stroke-linejoin="round" fill="none"/><circle cx="43.2" cy="24.5" r="8.8" fill="url(#hd)"/><path d="M40,33 L43.8,34 L47.5,33 L47.5,35.2 L43.8,34.3 L40,35.2 Z" fill="#111"/><ellipse cx="42" cy="16.6" rx="9.8" ry="2.6" fill="#111"/><rect x="34" y="3.6" width="13.9" height="13" rx="1" fill="url(#blk)"/><rect x="34" y="14.4" width="13.9" height="1.3" fill="#c01010"/><line x1="60.8" y1="46.5" x2="57.7" y2="69" stroke="#222" stroke-width="1.3"/><ellipse cx="62.5" cy="46.0" rx="2.6" ry="2.2" transform="rotate(0 62.5 46.0)" fill="#d4d4d4"/></g>
<g transform="translate(759,568)"><rect width="79" height="79" fill="url(#bg)"/><ellipse cx="36.0" cy="67.0" rx="28.0" ry="5.0" fill="url(#sh)" opacity="1.00"/><path d="M29.0,53.0 L25.0,58.0 L23.0,62.0" stroke="#cdcdcd" stroke-width="5.4" stroke-linecap="round" stroke-linejoin="round" fill="none"/><path d="M35.5,53.0 L36.0,58.0 L36.0,62.0" stroke="#c6c6c6" stroke-width="5.4" stroke-linecap="round" stroke-linejoin="round" fill="none"/><ellipse cx="23.3" cy="63.0" rx="4.6" ry="3.0" transform="rotate(-15 23.3 63.0)" fill="#d8d8d8"/><ellipse cx="35.7" cy="64.5" rx="4.8" ry="2.6" transform="rotate(0 35.7 64.5)" fill="#d2d2d2"/><rect x="25.0" y="34.0" width="14.0" height="21.0" rx="6.7" ry="7.3" transform="rotate(5 32.0 44.5)" fill="url(#bd)"/><path d="M26.5,38.0 L20.0,40.5 L14.5,40.5" stroke="#d0d0d0" stroke-width="3.2" stroke-linecap="round" stroke-linejoin="round" fill="none"/><ellipse cx="14.0" cy="41.0" rx="3.4" ry="2.6" transform="rotate(0 14.0 41.0)" fill="#d6d6d6"/><path d="M37.5,38.0 L42.0,34.0 L45.5,30.5" stroke="#cdcdcd" stroke-width="3.2" stroke-linecap="round" stroke-linejoin="round" fill="none"/><circle cx="30.2" cy="26.6" r="8.7" fill="url(#hd)"/><path d="M29,33 L33,35 L37,33 L37,37 L33,35.5 L29,37 Z" fill="#d01818"/><ellipse cx="30.5" cy="19" rx="10.8" ry="2.6" fill="#111"/><rect x="23.4" y="5.5" width="13.7" height="13" rx="1" fill="url(#blk)"/><rect x="23.4" y="16.2" width="13.7" height="1.5" fill="#c01010"/><g transform="rotate(-14 51.5 37)"><rect x="46.5" y="25.5" width="10" height="22.5" rx="5" fill="#3e3e3e"/><rect x="47" y="26" width="9" height="11" rx="4.5" fill="#d4d4d4"/><circle cx="49.0" cy="28.5" r="0.9" fill="#555"/><circle cx="52.0" cy="28.0" r="0.9" fill="#555"/><circle cx="54.5" cy="29.0" r="0.9" fill="#555"/><circle cx="48.5" cy="31.5" r="0.9" fill="#555"/><circle cx="51.5" cy="31.0" r="0.9" fill="#555"/><circle cx="54.5" cy="32.0" r="0.9" fill="#555"/><circle cx="49.5" cy="34.5" r="0.9" fill="#555"/><circle cx="52.5" cy="34.0" r="0.9" fill="#555"/><circle cx="55.0" cy="35.0" r="0.9" fill="#555"/><rect x="47.5" y="38" width="3" height="8" rx="1.5" fill="#6a6a6a"/></g><line x1="52.3" y1="48" x2="52.3" y2="68" stroke="#555" stroke-width="1.8"/><ellipse cx="52.5" cy="69.4" rx="9.8" ry="2" fill="#666"/></g>
<g transform="translate(602,729)"><rect width="76" height="116" fill="url(#bg)"/><path d="M40,44 C48,48 54,56 58,66 C62,74 66,80 70,85 C64,86 58,84 52,88 C50,80 48,72 44,62 Z" fill="#c81010"/><path d="M31.0,76.0 L31.0,88.0 L31.0,97.0" stroke="#e8e8e8" stroke-width="8.0" stroke-linecap="round" stroke-linejoin="round" fill="none"/><path d="M40.0,76.0 L41.0,92.0 L41.0,103.0" stroke="#e2e2e2" stroke-width="8.5" stroke-linecap="round" stroke-linejoin="round" fill="none"/><ellipse cx="31.0" cy="98.5" rx="5.0" ry="5.0" transform="rotate(0 31.0 98.5)" fill="#e6e6e6"/><ellipse cx="41.0" cy="105.0" rx="5.8" ry="5.5" transform="rotate(0 41.0 105.0)" fill="#e0e0e0"/><rect x="22.5" y="39.0" width="25.0" height="39.0" rx="12.0" ry="13.6" transform="rotate(0 35.0 58.5)" fill="url(#bdw)"/><path d="M22.5,46.0 L19.0,57.0 L19.0,66.0" stroke="#ececec" stroke-width="5.2" stroke-linecap="round" stroke-linejoin="round" fill="none"/><ellipse cx="18.8" cy="67.3" rx="3.4" ry="3.4" transform="rotate(0 18.8 67.3)" fill="#eeeeee"/><path d="M47.5,46.0 L50.0,57.0 L48.5,66.0" stroke="#e4e4e4" stroke-width="5.2" stroke-linecap="round" stroke-linejoin="round" fill="none"/><ellipse cx="48.4" cy="67.3" rx="3.4" ry="3.4" transform="rotate(0 48.4 67.3)" fill="#e8e8e8"/><circle cx="35.2" cy="22.2" r="17.0" fill="url(#hdw)"/><path d="M30,41.5 L40,41.5 L38,43 Z" fill="#d01010"/><path d="M26.5,45 C26.5,50 28.5,54 31.8,55 C35.2,54 37,50 37,45 C34,44 29.5,44 26.5,45 Z" fill="#f8d020"/><path d="M27.5,47 L36,47 L35,51 L28.5,51 Z" fill="#d82010"/></g>
<g transform="translate(480,779)"><rect width="78" height="71" fill="url(#bg)"/><rect x="20" y="27.5" width="30.5" height="26" rx="10" ry="8" fill="url(#bd)"/><path d="M48.0,35.0 L55.0,33.5 L60.5,31.0" stroke="#d0d0d0" stroke-width="4.2" stroke-linecap="round" stroke-linejoin="round" fill="none"/><ellipse cx="62.5" cy="31.5" rx="4.2" ry="3.0" transform="rotate(-25 62.5 31.5)" fill="#d6d6d6"/><path d="M22.0,37.0 L17.0,42.0 L14.0,45.0" stroke="#cfcfcf" stroke-width="4.2" stroke-linecap="round" stroke-linejoin="round" fill="none"/><ellipse cx="13.5" cy="45.5" rx="3.2" ry="2.6" transform="rotate(0 13.5 45.5)" fill="#d6d6d6"/><circle cx="33.5" cy="16.5" r="12.2" fill="url(#hd)"/><path d="M32,28 L35.5,28 L36,45 L33.5,45.5 L31.5,45 Z" fill="#e01818"/><path d="M27,41 L27,46 M36.6,37 L36.6,46 M46,42 L46,46" stroke="#b0b0b0" stroke-width="0.6"/><ellipse cx="27" cy="38" rx="2.4" ry="3.2" fill="#2a2a2a"/><ellipse cx="36.6" cy="33.7" rx="2.4" ry="3.2" fill="#2a2a2a"/><ellipse cx="46" cy="39" rx="2.4" ry="3.2" fill="#2a2a2a"/><path d="M12,45 L60.5,45 L59,61.8 L13.5,61.8 Z" fill="url(#pod)"/><path d="M12,45 L60.5,45 L60.3,47.5 L12.2,47.5 Z" fill="#ececec"/><path d="M17.7,61.8 L53,61.8 L53,71 L17.7,71 Z" fill="url(#pod)"/><rect x="13.5" y="61" width="45.5" height="1.2" fill="#b8b8b8"/></g>
<g transform="translate(353,778)"><rect width="73" height="85" fill="url(#bg)"/><ellipse cx="26.0" cy="70.0" rx="20.0" ry="5.0" fill="url(#sh)" opacity="1.00"/><path d="M17.5,55.0 L18.0,63.0 L18.5,69.0" stroke="#cdcdcd" stroke-width="6.0" stroke-linecap="round" stroke-linejoin="round" fill="none"/><path d="M25.0,55.0 L25.5,63.0 L26.0,68.0" stroke="#c6c6c6" stroke-width="6.0" stroke-linecap="round" stroke-linejoin="round" fill="none"/><ellipse cx="18.0" cy="70.5" rx="5.0" ry="2.6" transform="rotate(0 18.0 70.5)" fill="#d6d6d6"/><ellipse cx="27.0" cy="69.5" rx="4.6" ry="2.4" transform="rotate(0 27.0 69.5)" fill="#d0d0d0"/><rect x="12.5" y="31.0" width="18.0" height="25.0" rx="8.6" ry="8.8" transform="rotate(0 21.5 43.5)" fill="url(#bd)"/><circle cx="21.2" cy="19.7" r="11.3" fill="url(#hd)"/><path d="M12.0,37.0 L12.0,41.0 L18.0,45.0" stroke="#d2d2d2" stroke-width="4.2" stroke-linecap="round" stroke-linejoin="round" fill="none"/><path d="M19,45.5 C25,43.5 32,46 37,49.5 L36.5,63 C31,65.5 24,63.5 20.5,60.5 Z" fill="#3a982c"/><path d="M20,48 C26,46.5 32,49 36.5,52 L36.5,55 C32,52 26,49.5 20.2,51 Z" fill="#60b848" opacity="0.55"/><path d="M27,47 C30,40 34,38 34,39 C35,42 33,46 31,48" stroke="#48a838" stroke-width="1.8" fill="none"/><path d="M36,58 L47,53 L50,52.5 L49.5,55.5 L37,62 Z" fill="#3a9a2e"/><path d="M30.0,38.0 L32.0,44.0" stroke="#d0d0d0" stroke-width="3.6" stroke-linecap="round" stroke-linejoin="round" fill="none"/><ellipse cx="58" cy="72.5" rx="5" ry="2.6" fill="#2a1a14"/><path d="M58,72 L58,62 M58,66 L55,61 M58,64 L61,60 M58,68 L55.5,65" stroke="#58b040" stroke-width="1.4"/><ellipse cx="55" cy="60.5" rx="2" ry="1.3" fill="#70c050"/><ellipse cx="61.3" cy="59.5" rx="2" ry="1.3" fill="#70c050"/><circle cx="54" cy="55" r="1.6" fill="#e8e8e8"/></g>
<g transform="translate(230,731)"><rect width="89" height="71" fill="url(#bg)"/><ellipse cx="45.0" cy="62.0" rx="36.0" ry="5.0" fill="url(#sh)" opacity="0.80"/><path d="M7,61 C15,60.5 30,59.6 50.4,57.4 C58,55 62,51 64.5,46.3 C68,40 70.5,35 72,29.8 L71,29.7 L80.6,7.6 L81.6,28.2 L77.5,30 C75,40 71,48 65.5,52.4 C60,58 55,62 50.4,62.9 C35,64 18,63 7,61.8 Z" fill="#2ab42a"/><path d="M8,61.3 C20,60.8 35,60 50,58.2 C58,56 62,52 65,47" stroke="#5ad05a" stroke-width="0.8" fill="none"/><path d="M57.0,45.0 L60.0,49.0 L63.0,48.0" stroke="#c8c8c8" stroke-width="3.6" stroke-linecap="round" stroke-linejoin="round" fill="none"/><path d="M54.0,44.0 L55.0,50.0 L58.0,52.0" stroke="#d0d0d0" stroke-width="3.6" stroke-linecap="round" stroke-linejoin="round" fill="none"/><rect x="52.5" y="28.5" width="11.0" height="18.5" rx="5.3" ry="6.5" transform="rotate(15 58.0 37.8)" fill="url(#bd)"/><circle cx="51.4" cy="22.7" r="7.0" fill="url(#hd)"/><path d="M62.0,33.0 L65.5,32.7" stroke="#d0d0d0" stroke-width="3.0" stroke-linecap="round" stroke-linejoin="round" fill="none"/><path d="M45.0,55.0 L44.5,57.5" stroke="#cccccc" stroke-width="4.0" stroke-linecap="round" stroke-linejoin="round" fill="none"/><path d="M49.0,54.0 L50.0,57.5" stroke="#c4c4c4" stroke-width="4.0" stroke-linecap="round" stroke-linejoin="round" fill="none"/><ellipse cx="44.0" cy="58.5" rx="4.0" ry="2.2" transform="rotate(0 44.0 58.5)" fill="#d2d2d2"/><ellipse cx="50.5" cy="58.5" rx="4.0" ry="2.2" transform="rotate(0 50.5 58.5)" fill="#cccccc"/><rect x="40.5" y="38.5" width="11.0" height="17.5" rx="5.3" ry="6.1" transform="rotate(5 46.0 47.2)" fill="url(#bd)"/><path d="M50.0,43.0 L54.0,40.0 L56.0,37.0" stroke="#cdcdcd" stroke-width="3.0" stroke-linecap="round" stroke-linejoin="round" fill="none"/><circle cx="41.8" cy="33.7" r="6.6" fill="url(#hd)"/></g>
<g transform="translate(80,567)"><rect width="74" height="95" fill="url(#bg)"/><ellipse cx="37.0" cy="80.0" rx="22.0" ry="5.0" fill="url(#sh)" opacity="1.00"/><path d="M33.0,59.0 L31.5,69.0 L30.5,78.0" stroke="#cdcdcd" stroke-width="6.0" stroke-linecap="round" stroke-linejoin="round" fill="none"/><path d="M41.0,59.0 L42.0,69.0 L42.5,78.0" stroke="#c6c6c6" stroke-width="6.0" stroke-linecap="round" stroke-linejoin="round" fill="none"/><ellipse cx="30.0" cy="80.5" rx="5.0" ry="2.8" transform="rotate(0 30.0 80.5)" fill="#d8d8d8"/><ellipse cx="42.5" cy="80.5" rx="5.0" ry="2.8" transform="rotate(0 42.5 80.5)" fill="#d2d2d2"/><rect x="28.5" y="39.0" width="18.0" height="21.0" rx="8.6" ry="7.3" transform="rotate(0 37.5 49.5)" fill="url(#bd)"/><circle cx="36.9" cy="31.9" r="8.8" fill="url(#hd)"/><path d="M29.0,49.0 L36.0,51.0 L46.0,47.0" stroke="#cbcbcb" stroke-width="4.2" stroke-linecap="round" stroke-linejoin="round" fill="none"/><path d="M45.0,44.0 L41.0,47.0 L39.0,40.0" stroke="#d6d6d6" stroke-width="3.8" stroke-linecap="round" stroke-linejoin="round" fill="none"/><g transform="translate(15.4,27.0) rotate(-60)"><rect x="-1.8" y="4.5" width="3.6" height="3.8" fill="#e6e6e6" stroke="#999" stroke-width="0.4"/><circle cx="0" cy="0" r="5.2" fill="url(#red)"/></g><g transform="translate(22.0,15.4) rotate(-35)"><rect x="-1.8" y="4.5" width="3.6" height="3.8" fill="#e6e6e6" stroke="#999" stroke-width="0.4"/><circle cx="0" cy="0" r="5.2" fill="url(#red)"/></g><g transform="translate(36.9,11.6) rotate(0)"><rect x="-1.8" y="4.5" width="3.6" height="3.8" fill="#e6e6e6" stroke="#999" stroke-width="0.4"/><circle cx="0" cy="0" r="5.2" fill="url(#red)"/></g><g transform="translate(51.2,14.9) rotate(35)"><rect x="-1.8" y="4.5" width="3.6" height="3.8" fill="#e6e6e6" stroke="#999" stroke-width="0.4"/><circle cx="0" cy="0" r="5.2" fill="url(#red)"/></g><g transform="translate(58.4,26.4) rotate(60)"><rect x="-1.8" y="4.5" width="3.6" height="3.8" fill="#e6e6e6" stroke="#999" stroke-width="0.4"/><circle cx="0" cy="0" r="5.2" fill="url(#red)"/></g></g>
<g transform="translate(1,457)"><rect width="102" height="73" fill="url(#bg)"/><ellipse cx="52.0" cy="50.0" rx="50.0" ry="10.0" fill="url(#sh)" opacity="0.60"/><g transform="translate(16.7,30.0) scale(0.85)"><path d="M-1.8,15 L-2.6,7 M1.8,15 L2.6,7" stroke="#c4c4c4" stroke-width="2.4" stroke-linecap="round"/><path d="M-4.8,5 L-5.2,-1 M4.8,5 L5.2,-1" stroke="#c8c8c8" stroke-width="1.8" stroke-linecap="round"/><rect x="-4.2" y="-2.5" width="8.4" height="11" rx="4" ry="3" fill="url(#bd)"/><circle cx="0" cy="-6" r="4.3" fill="url(#hd)"/><ellipse cx="-2" cy="16" rx="2.6" ry="1.3" fill="#d0d0d0"/><ellipse cx="2.2" cy="16" rx="2.6" ry="1.3" fill="#d0d0d0"/></g><g transform="translate(32.3,30.0) scale(0.90)"><path d="M-1.8,15 L-2.6,7 M1.8,15 L2.6,7" stroke="#c4c4c4" stroke-width="2.4" stroke-linecap="round"/><path d="M-4.8,5 L-5.2,-1 M4.8,5 L5.2,-1" stroke="#c8c8c8" stroke-width="1.8" stroke-linecap="round"/><rect x="-4.2" y="-2.5" width="8.4" height="11" rx="4" ry="3" fill="url(#bd)"/><circle cx="0" cy="-6" r="4.3" fill="url(#hd)"/><ellipse cx="-2" cy="16" rx="2.6" ry="1.3" fill="#d0d0d0"/><ellipse cx="2.2" cy="16" rx="2.6" ry="1.3" fill="#d0d0d0"/></g><g transform="translate(43.3,30.0) scale(0.85)"><path d="M-1.8,15 L-2.6,7 M1.8,15 L2.6,7" stroke="#c4c4c4" stroke-width="2.4" stroke-linecap="round"/><path d="M-4.8,5 L-5.2,-1 M4.8,5 L5.2,-1" stroke="#c8c8c8" stroke-width="1.8" stroke-linecap="round"/><rect x="-4.2" y="-2.5" width="8.4" height="11" rx="4" ry="3" fill="url(#bd)"/><circle cx="0" cy="-6" r="4.3" fill="url(#hd)"/><ellipse cx="-2" cy="16" rx="2.6" ry="1.3" fill="#d0d0d0"/><ellipse cx="2.2" cy="16" rx="2.6" ry="1.3" fill="#d0d0d0"/></g><g transform="translate(73.8,30.0) scale(0.85)"><path d="M-1.8,15 L-2.6,7 M1.8,15 L2.6,7" stroke="#c4c4c4" stroke-width="2.4" stroke-linecap="round"/><path d="M-4.8,5 L-5.2,-1 M4.8,5 L5.2,-1" stroke="#c8c8c8" stroke-width="1.8" stroke-linecap="round"/><rect x="-4.2" y="-2.5" width="8.4" height="11" rx="4" ry="3" fill="url(#bd)"/><circle cx="0" cy="-6" r="4.3" fill="url(#hd)"/><ellipse cx="-2" cy="16" rx="2.6" ry="1.3" fill="#d0d0d0"/><ellipse cx="2.2" cy="16" rx="2.6" ry="1.3" fill="#d0d0d0"/></g><g transform="translate(85.4,30.0) scale(0.85)"><path d="M-1.8,15 L-2.6,7 M1.8,15 L2.6,7" stroke="#c4c4c4" stroke-width="2.4" stroke-linecap="round"/><path d="M-4.8,5 L-5.2,-1 M4.8,5 L5.2,-1" stroke="#c8c8c8" stroke-width="1.8" stroke-linecap="round"/><rect x="-4.2" y="-2.5" width="8.4" height="11" rx="4" ry="3" fill="url(#bd)"/><circle cx="0" cy="-6" r="4.3" fill="url(#hd)"/><ellipse cx="-2" cy="16" rx="2.6" ry="1.3" fill="#d0d0d0"/><ellipse cx="2.2" cy="16" rx="2.6" ry="1.3" fill="#d0d0d0"/></g><g transform="translate(8.7,29.0) scale(1.00)"><path d="M-1.8,15 L-2.6,7 M1.8,15 L2.6,7" stroke="#c4c4c4" stroke-width="2.4" stroke-linecap="round"/><path d="M-4.8,5 L-5.2,-1 M4.8,5 L5.2,-1" stroke="#c8c8c8" stroke-width="1.8" stroke-linecap="round"/><rect x="-4.2" y="-2.5" width="8.4" height="11" rx="4" ry="3" fill="url(#bd)"/><circle cx="0" cy="-6" r="4.3" fill="url(#hd)"/><ellipse cx="-2" cy="16" rx="2.6" ry="1.3" fill="#d0d0d0"/><ellipse cx="2.2" cy="16" rx="2.6" ry="1.3" fill="#d0d0d0"/></g><g transform="translate(23.9,29.0) scale(1.00)"><path d="M-1.8,15 L-2.6,7 M1.8,15 L2.6,7" stroke="#c4c4c4" stroke-width="2.4" stroke-linecap="round"/><path d="M-4.8,5 L-5.2,-1 M4.8,5 L5.2,-1" stroke="#c8c8c8" stroke-width="1.8" stroke-linecap="round"/><rect x="-4.2" y="-2.5" width="8.4" height="11" rx="4" ry="3" fill="url(#bd)"/><circle cx="0" cy="-6" r="4.3" fill="url(#hd)"/><ellipse cx="-2" cy="16" rx="2.6" ry="1.3" fill="#d0d0d0"/><ellipse cx="2.2" cy="16" rx="2.6" ry="1.3" fill="#d0d0d0"/></g><g transform="translate(37.5,29.0) scale(1.00)"><path d="M-1.8,15 L-2.6,7 M1.8,15 L2.6,7" stroke="#c4c4c4" stroke-width="2.4" stroke-linecap="round"/><path d="M-4.8,5 L-5.2,-1 M4.8,5 L5.2,-1" stroke="#c8c8c8" stroke-width="1.8" stroke-linecap="round"/><rect x="-4.2" y="-2.5" width="8.4" height="11" rx="4" ry="3" fill="url(#bd)"/><circle cx="0" cy="-6" r="4.3" fill="url(#hd)"/><ellipse cx="-2" cy="16" rx="2.6" ry="1.3" fill="#d0d0d0"/><ellipse cx="2.2" cy="16" rx="2.6" ry="1.3" fill="#d0d0d0"/></g><g transform="translate(65.2,29.0) scale(1.00)"><path d="M-1.8,15 L-2.6,7 M1.8,15 L2.6,7" stroke="#c4c4c4" stroke-width="2.4" stroke-linecap="round"/><path d="M-4.8,5 L-5.2,-1 M4.8,5 L5.2,-1" stroke="#c8c8c8" stroke-width="1.8" stroke-linecap="round"/><rect x="-4.2" y="-2.5" width="8.4" height="11" rx="4" ry="3" fill="url(#bd)"/><circle cx="0" cy="-6" r="4.3" fill="url(#hd)"/><ellipse cx="-2" cy="16" rx="2.6" ry="1.3" fill="#d0d0d0"/><ellipse cx="2.2" cy="16" rx="2.6" ry="1.3" fill="#d0d0d0"/></g><g transform="translate(80.8,29.0) scale(1.00)"><path d="M-1.8,15 L-2.6,7 M1.8,15 L2.6,7" stroke="#c4c4c4" stroke-width="2.4" stroke-linecap="round"/><path d="M-4.8,5 L-5.2,-1 M4.8,5 L5.2,-1" stroke="#c8c8c8" stroke-width="1.8" stroke-linecap="round"/><rect x="-4.2" y="-2.5" width="8.4" height="11" rx="4" ry="3" fill="url(#bd)"/><circle cx="0" cy="-6" r="4.3" fill="url(#hd)"/><ellipse cx="-2" cy="16" rx="2.6" ry="1.3" fill="#d0d0d0"/><ellipse cx="2.2" cy="16" rx="2.6" ry="1.3" fill="#d0d0d0"/></g><g transform="translate(93.5,29.0) scale(1.00)"><path d="M-1.8,15 L-2.6,7 M1.8,15 L2.6,7" stroke="#c4c4c4" stroke-width="2.4" stroke-linecap="round"/><path d="M-4.8,5 L-5.2,-1 M4.8,5 L5.2,-1" stroke="#c8c8c8" stroke-width="1.8" stroke-linecap="round"/><rect x="-4.2" y="-2.5" width="8.4" height="11" rx="4" ry="3" fill="url(#bd)"/><circle cx="0" cy="-6" r="4.3" fill="url(#hd)"/><ellipse cx="-2" cy="16" rx="2.6" ry="1.3" fill="#d0d0d0"/><ellipse cx="2.2" cy="16" rx="2.6" ry="1.3" fill="#d0d0d0"/></g><ellipse cx="54.0" cy="61.0" rx="14.0" ry="3.0" fill="url(#sh)" opacity="1.00"/><path d="M51.3,39.0 L50.5,48.0 L49.5,56.0" stroke="#d41010" stroke-width="4.8" stroke-linecap="round" stroke-linejoin="round" fill="none"/><path d="M56.3,39.0 L57.5,48.0 L59.0,56.0" stroke="#c80c0c" stroke-width="4.8" stroke-linecap="round" stroke-linejoin="round" fill="none"/><ellipse cx="49" cy="58.3" rx="4.4" ry="3.2" fill="#e01010"/><ellipse cx="59.8" cy="58.3" rx="4.4" ry="3.2" fill="#d00c0c"/><rect x="46" y="22.5" width="15.5" height="19" rx="7" ry="6" fill="url(#red)"/><path d="M46.5,27.0 L52.0,31.5 L60.0,28.0" stroke="#c00808" stroke-width="3.6" stroke-linecap="round" stroke-linejoin="round" fill="none"/><path d="M61.0,26.5 L55.0,30.5 L47.5,29.0" stroke="#e81818" stroke-width="3.4" stroke-linecap="round" stroke-linejoin="round" fill="none"/><circle cx="53.7" cy="15.6" r="7.6" fill="url(#red)"/></g>
<g transform="translate(3,327)"><rect width="99" height="74" fill="url(#bg)"/><ellipse cx="62.0" cy="60.0" rx="34.0" ry="6.0" fill="url(#sh)" opacity="0.70"/><path d="M44.8,21.8 L51.9,23.2 L54,61.9 L45.8,51 Z" fill="#dadada"/><path d="M44.8,21.8 L51,20.8 L88.5,21.8 L87.9,23.2 L51.9,23.2 Z" fill="#f4f4f4"/><path d="M51.9,23.2 L87.9,23.2 L87.9,61.9 L54,61.9 Z" fill="#e6e6e6"/><rect x="52.2" y="23.5" width="7.5" height="7.5" rx="1" fill="#ececec" stroke="#c4c4c4" stroke-width="0.6"/><rect x="52.6" y="31.6" width="7.1" height="6.9" rx="1" fill="#ececec" stroke="#c4c4c4" stroke-width="0.6"/><rect x="53.0" y="39.1" width="6.7" height="6.9" rx="1" fill="#ececec" stroke="#c4c4c4" stroke-width="0.6"/><rect x="53.5" y="46.6" width="6.2" height="6.8" rx="1" fill="#ececec" stroke="#c4c4c4" stroke-width="0.6"/><rect x="53.9" y="54.0" width="5.8" height="7.6" rx="1" fill="#ececec" stroke="#c4c4c4" stroke-width="0.6"/><rect x="60.3" y="23.5" width="6.9" height="7.5" rx="1" fill="#ececec" stroke="#c4c4c4" stroke-width="0.6"/><rect x="60.3" y="31.6" width="6.9" height="6.9" rx="1" fill="#ececec" stroke="#c4c4c4" stroke-width="0.6"/><rect x="60.3" y="39.1" width="6.9" height="6.9" rx="1" fill="#ececec" stroke="#c4c4c4" stroke-width="0.6"/><rect x="60.3" y="46.6" width="6.9" height="6.8" rx="1" fill="#ececec" stroke="#c4c4c4" stroke-width="0.6"/><rect x="60.3" y="54.0" width="6.9" height="7.6" rx="1" fill="#ececec" stroke="#c4c4c4" stroke-width="0.6"/><rect x="67.8" y="23.5" width="6.5" height="7.5" rx="1" fill="#ececec" stroke="#c4c4c4" stroke-width="0.6"/><rect x="67.8" y="31.6" width="6.5" height="6.9" rx="1" fill="#ececec" stroke="#c4c4c4" stroke-width="0.6"/><rect x="67.8" y="39.1" width="6.5" height="6.9" rx="1" fill="#ececec" stroke="#c4c4c4" stroke-width="0.6"/><rect x="67.8" y="46.6" width="6.5" height="6.8" rx="1" fill="#ececec" stroke="#c4c4c4" stroke-width="0.6"/><rect x="67.8" y="54.0" width="6.5" height="7.6" rx="1" fill="#ececec" stroke="#c4c4c4" stroke-width="0.6"/><rect x="74.9" y="23.5" width="6.2" height="7.5" rx="1" fill="#ececec" stroke="#c4c4c4" stroke-width="0.6"/><rect x="74.9" y="31.6" width="6.2" height="6.9" rx="1" fill="#ececec" stroke="#c4c4c4" stroke-width="0.6"/><rect x="74.9" y="39.1" width="6.2" height="6.9" rx="1" fill="#ececec" stroke="#c4c4c4" stroke-width="0.6"/><rect x="74.9" y="46.6" width="6.2" height="6.8" rx="1" fill="#ececec" stroke="#c4c4c4" stroke-width="0.6"/><rect x="74.9" y="54.0" width="6.2" height="7.6" rx="1" fill="#ececec" stroke="#c4c4c4" stroke-width="0.6"/><rect x="81.7" y="23.5" width="5.9" height="7.5" rx="1" fill="#ececec" stroke="#c4c4c4" stroke-width="0.6"/><rect x="81.7" y="31.6" width="5.9" height="6.9" rx="1" fill="#ececec" stroke="#c4c4c4" stroke-width="0.6"/><rect x="81.7" y="39.1" width="5.9" height="6.9" rx="1" fill="#ececec" stroke="#c4c4c4" stroke-width="0.6"/><rect x="81.7" y="46.6" width="5.9" height="6.8" rx="1" fill="#ececec" stroke="#c4c4c4" stroke-width="0.6"/><rect x="81.7" y="54.0" width="5.9" height="7.6" rx="1" fill="#ececec" stroke="#c4c4c4" stroke-width="0.6"/><line x1="45" y1="21.8" x2="52.5" y2="23.2" stroke="#bdbdbd" stroke-width="0.6"/><line x1="45" y1="27.6" x2="52.5" y2="30.9" stroke="#bdbdbd" stroke-width="0.6"/><line x1="45" y1="33.5" x2="52.5" y2="38.7" stroke="#bdbdbd" stroke-width="0.6"/><line x1="45" y1="39.3" x2="52.5" y2="46.4" stroke="#bdbdbd" stroke-width="0.6"/><line x1="45" y1="45.2" x2="52.5" y2="54.2" stroke="#bdbdbd" stroke-width="0.6"/><path d="M20.0,42.0 L14.0,48.0 L9.0,53.0" stroke="#cdcdcd" stroke-width="5.0" stroke-linecap="round" stroke-linejoin="round" fill="none"/><path d="M24.0,42.0 L26.0,47.0 L28.0,50.0" stroke="#c6c6c6" stroke-width="5.0" stroke-linecap="round" stroke-linejoin="round" fill="none"/><ellipse cx="8.5" cy="54.5" rx="4.6" ry="2.4" transform="rotate(-25 8.5 54.5)" fill="#d4d4d4"/><ellipse cx="28.5" cy="51.5" rx="4.4" ry="2.3" transform="rotate(0 28.5 51.5)" fill="#d0d0d0"/><rect x="16.0" y="23.0" width="12.0" height="22.0" rx="5.8" ry="7.7" transform="rotate(22 22.0 34.0)" fill="url(#bd)"/><circle cx="21.3" cy="17.9" r="7.0" fill="url(#hd)"/><path d="M25.0,27.0 L30.0,26.0 L34.0,26.5" stroke="#d4d4d4" stroke-width="3.2" stroke-linecap="round" stroke-linejoin="round" fill="none"/><path d="M23.0,30.0 L29.0,31.0 L34.0,29.5" stroke="#c8c8c8" stroke-width="3.2" stroke-linecap="round" stroke-linejoin="round" fill="none"/><g transform="translate(33.0,23.5)"><rect x="0" y="0" width="4.2" height="4.2" rx="1" fill="#d00000"/><rect x="0.6" y="0.4" width="2.5" height="1.7" rx="0.8" fill="#ee1a1a"/><rect x="2.7" y="0.8" width="1.5" height="3.8" fill="#a80000"/></g><g transform="translate(67.5,11.0)"><rect x="0" y="0" width="7.8" height="7.8" rx="1" fill="#d00000"/><rect x="0.6" y="0.4" width="4.7" height="3.1" rx="0.8" fill="#ee1a1a"/><rect x="5.1" y="0.8" width="2.7" height="7.0" fill="#a80000"/></g><g transform="translate(82.1,23.5)"><rect x="0" y="0" width="8.5" height="8.5" rx="1" fill="#d00000"/><rect x="0.6" y="0.4" width="5.1" height="3.4" rx="0.8" fill="#ee1a1a"/><rect x="5.5" y="0.8" width="3.0" height="7.7" fill="#a80000"/></g><g transform="translate(60.4,33.0)"><rect x="0" y="0" width="8.5" height="8.5" rx="1" fill="#d00000"/><rect x="0.6" y="0.4" width="5.1" height="3.4" rx="0.8" fill="#ee1a1a"/><rect x="5.5" y="0.8" width="3.0" height="7.7" fill="#a80000"/></g><g transform="translate(39.0,43.5)"><rect x="0" y="0" width="6.8" height="6.8" rx="1" fill="#d00000"/><rect x="0.6" y="0.4" width="4.1" height="2.7" rx="0.8" fill="#ee1a1a"/><rect x="4.4" y="0.8" width="2.4" height="6.1" fill="#a80000"/></g><g transform="translate(73.0,51.7)"><rect x="0" y="0" width="9.0" height="9.0" rx="1" fill="#d00000"/><rect x="0.6" y="0.4" width="5.4" height="3.6" rx="0.8" fill="#ee1a1a"/><rect x="5.9" y="0.8" width="3.1" height="8.1" fill="#a80000"/></g></g>
<g transform="translate(56,213)"><rect width="94" height="71" fill="url(#bg)"/><rect width="94" height="71" fill="#fff"/><g clip-path="url(#cbclip)"><path d="M-241.23,77.97 L-181.36,77.97 L-307.84,122.15 L-401.45,122.15 Z" fill="#7a3812"/><path d="M-121.50,77.97 L-61.63,77.97 L-120.61,122.15 L-214.23,122.15 Z" fill="#7a3812"/><path d="M-1.76,77.97 L58.10,77.97 L66.62,122.15 L-27.00,122.15 Z" fill="#7a3812"/><path d="M117.97,77.97 L177.83,77.97 L253.84,122.15 L160.23,122.15 Z" fill="#7a3812"/><path d="M237.70,77.97 L297.57,77.97 L441.07,122.15 L347.46,122.15 Z" fill="#7a3812"/><path d="M-121.91,57.20 L-77.91,57.20 L-121.50,77.97 L-181.36,77.97 Z" fill="#7a3812"/><path d="M-33.90,57.20 L10.10,57.20 L-1.76,77.97 L-61.63,77.97 Z" fill="#7a3812"/><path d="M54.10,57.20 L98.10,57.20 L117.97,77.97 L58.10,77.97 Z" fill="#7a3812"/><path d="M142.11,57.20 L186.11,57.20 L237.70,77.97 L177.83,77.97 Z" fill="#7a3812"/><path d="M-122.15,45.14 L-87.37,45.14 L-121.91,57.20 L-165.91,57.20 Z" fill="#7a3812"/><path d="M-52.58,45.14 L-17.80,45.14 L-33.90,57.20 L-77.91,57.20 Z" fill="#7a3812"/><path d="M16.99,45.14 L51.78,45.14 L54.10,57.20 L10.10,57.20 Z" fill="#7a3812"/><path d="M86.56,45.14 L121.35,45.14 L142.11,57.20 L98.10,57.20 Z" fill="#7a3812"/><path d="M156.13,45.14 L190.92,45.14 L230.11,57.20 L186.11,57.20 Z" fill="#7a3812"/><path d="M-64.79,37.25 L-36.03,37.25 L-52.58,45.14 L-87.37,45.14 Z" fill="#7a3812"/><path d="M-7.27,37.25 L21.49,37.25 L16.99,45.14 L-17.80,45.14 Z" fill="#7a3812"/><path d="M50.26,37.25 L79.02,37.25 L86.56,45.14 L51.78,45.14 Z" fill="#7a3812"/><path d="M107.78,37.25 L136.54,37.25 L156.13,45.14 L121.35,45.14 Z" fill="#7a3812"/><path d="M-73.39,31.69 L-48.88,31.69 L-64.79,37.25 L-93.55,37.25 Z" fill="#7a3812"/><path d="M-24.36,31.69 L0.15,31.69 L-7.27,37.25 L-36.03,37.25 Z" fill="#7a3812"/><path d="M24.67,31.69 L49.18,31.69 L50.26,37.25 L21.49,37.25 Z" fill="#7a3812"/><path d="M73.70,31.69 L98.21,31.69 L107.78,37.25 L79.02,37.25 Z" fill="#7a3812"/><path d="M122.73,31.69 L147.24,31.69 L165.30,37.25 L136.54,37.25 Z" fill="#7a3812"/><path d="M-37.06,27.56 L-15.70,27.56 L-24.36,31.69 L-48.88,31.69 Z" fill="#7a3812"/><path d="M5.67,27.56 L27.03,27.56 L24.67,31.69 L0.15,31.69 Z" fill="#7a3812"/><path d="M48.39,27.56 L69.75,27.56 L73.70,31.69 L49.18,31.69 Z" fill="#7a3812"/><path d="M91.11,27.56 L112.47,27.56 L122.73,31.69 L98.21,31.69 Z" fill="#7a3812"/><path d="M-46.86,24.38 L-27.93,24.38 L-37.06,27.56 L-58.42,27.56 Z" fill="#7a3812"/><path d="M-9.01,24.38 L9.92,24.38 L5.67,27.56 L-15.70,27.56 Z" fill="#7a3812"/><path d="M28.85,24.38 L47.77,24.38 L48.39,27.56 L27.03,27.56 Z" fill="#7a3812"/><path d="M66.70,24.38 L85.63,24.38 L91.11,27.56 L69.75,27.56 Z" fill="#7a3812"/><path d="M104.56,24.38 L123.48,24.38 L133.84,27.56 L112.47,27.56 Z" fill="#7a3812"/><path d="M-20.68,21.84 L-3.69,21.84 L-9.01,24.38 L-27.93,24.38 Z" fill="#7a3812"/><path d="M13.31,21.84 L30.30,21.84 L28.85,24.38 L9.92,24.38 Z" fill="#7a3812"/><path d="M47.29,21.84 L64.28,21.84 L66.70,24.38 L47.77,24.38 Z" fill="#7a3812"/><path d="M81.27,21.84 L98.26,21.84 L104.56,24.38 L85.63,24.38 Z" fill="#7a3812"/><path d="M-30.18,19.78 L-14.77,19.78 L-20.68,21.84 L-37.67,21.84 Z" fill="#7a3812"/><path d="M0.65,19.78 L16.06,19.78 L13.31,21.84 L-3.69,21.84 Z" fill="#7a3812"/><path d="M31.47,19.78 L46.89,19.78 L47.29,21.84 L30.30,21.84 Z" fill="#7a3812"/><path d="M62.30,19.78 L77.72,19.78 L81.27,21.84 L64.28,21.84 Z" fill="#7a3812"/><path d="M93.13,19.78 L108.54,19.78 L115.25,21.84 L98.26,21.84 Z" fill="#7a3812"/></g><path d="M13,20 C16,18 22,19 24,22 L24,33 C23,37 17,38 14,36 Z" fill="url(#bd)" /><path d="M14,35 L19,36 L12,42 L10,47 L6,48 L5,45 L9,43 Z" fill="#cdcdcd" /><path d="M18,36 L23,35 L22,45 L17,47 Z" fill="#d0d0d0" /><ellipse cx="8" cy="47.5" rx="3.5" ry="2.4" fill="#c8c8c8"/><ellipse cx="20.5" cy="47.5" rx="4.5" ry="2.2" fill="#cfcfcf"/><circle cx="15.7" cy="13.0" r="7.1" fill="url(#hd)"/><ellipse cx="33" cy="50.5" rx="8.5" ry="3.6" fill="#d6d6d6"/><ellipse cx="33" cy="48.5" rx="7.8" ry="2.8" fill="#e8e8e8"/><ellipse cx="33" cy="47" rx="6.5" ry="2.2" fill="#cfcfcf"/><path d="M28.5,28.5 L36.5,28.5 L38,46 L27,46 Z" fill="url(#bd)"/><path d="M27.5,29 C26.5,23 27,16 31,14 C34,14.5 36,18 36,22 C36,25 35,27 36,29 Z" fill="url(#bd)"/><path d="M21,25 L28,21 L29,24 L23,28 Z" fill="#cacaca" /><path d="M22,30 L31,28 L31,31 L24,33 Z" fill="#d2d2d2" /><ellipse cx="72" cy="50" rx="8.8" ry="3.6" fill="#151515"/><ellipse cx="72" cy="47.5" rx="7.5" ry="2.6" fill="#2e2e2e"/><path d="M69.5,19.5 L75.5,19.5 C76,32 77,40 79,45.5 L65,45.5 C67,40 68.5,32 69.5,19.5 Z" fill="url(#blk)"/><ellipse cx="72.5" cy="20" rx="6" ry="1.8" fill="#2a2a2a"/><path d="M70,15 L75.5,15 L76.5,19 L69,19 Z" fill="#252525"/><path d="M68.5,10.8 L79,10.8 L77.5,15 L70,15 Z" fill="#303030"/><ellipse cx="73.7" cy="11" rx="5.3" ry="1.5" fill="#3c3c3c"/></g>
</svg></body></html>
